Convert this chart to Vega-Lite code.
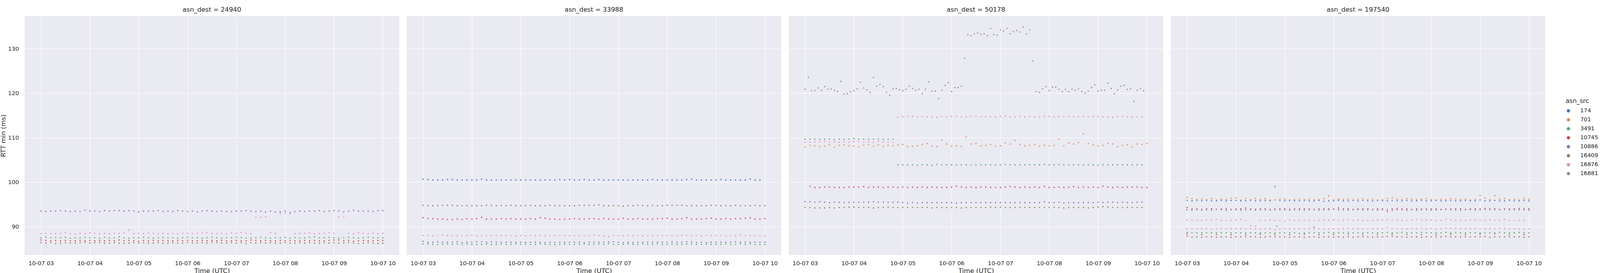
{
"$schema":"https://vega.github.io/schema/vega-lite/v6.json",
"background":"white",
"padding":{"left":0,"top":16,"right":0,"bottom":0},
"config":{
"font":"DejaVu Sans",
"view":{"fill":"#eaeaf2","stroke":null},
"axis":{"grid":true,"gridColor":"white","gridWidth":1.2,"domain":false,"ticks":false,"labelColor":"#262626","titleColor":"#262626","labelFontSize":14.5,"titleFontSize":16.5,"titleFontWeight":"normal"},
"header":{"labelFontSize":16.5,"labelColor":"#262626","labelPadding":8}
},
"data":{"format":{"parse":{"t":"date:'%H%M'"}},"values":[
{"d":24940,"s":10886,"t":"0300","v":93.5},{"d":24940,"s":10886,"t":"0306","v":93.4},{"d":24940,"s":10886,"t":"0312","v":93.5},{"d":24940,"s":10886,"t":"0318","v":93.5},{"d":24940,"s":10886,"t":"0324","v":93.6},{"d":24940,"s":10886,"t":"0330","v":93.5},{"d":24940,"s":10886,"t":"0336","v":93.4},{"d":24940,"s":10886,"t":"0342","v":93.5},{"d":24940,"s":10886,"t":"0348","v":93.4},{"d":24940,"s":10886,"t":"0354","v":93.7},{"d":24940,"s":10886,"t":"0400","v":93.5},{"d":24940,"s":10886,"t":"0406","v":93.5},{"d":24940,"s":10886,"t":"0412","v":93.4},{"d":24940,"s":10886,"t":"0418","v":93.6},{"d":24940,"s":10886,"t":"0424","v":93.5},{"d":24940,"s":10886,"t":"0430","v":93.6},{"d":24940,"s":10886,"t":"0436","v":93.6},{"d":24940,"s":10886,"t":"0442","v":93.5},{"d":24940,"s":10886,"t":"0448","v":93.6},{"d":24940,"s":10886,"t":"0454","v":93.5},{"d":24940,"s":10886,"t":"0500","v":93.3},{"d":24940,"s":10886,"t":"0506","v":93.5},{"d":24940,"s":10886,"t":"0512","v":93.5},{"d":24940,"s":10886,"t":"0518","v":93.5},{"d":24940,"s":10886,"t":"0524","v":93.6},{"d":24940,"s":10886,"t":"0530","v":93.4},{"d":24940,"s":10886,"t":"0536","v":93.5},{"d":24940,"s":10886,"t":"0542","v":93.4},{"d":24940,"s":10886,"t":"0548","v":93.6},{"d":24940,"s":10886,"t":"0554","v":93.5},{"d":24940,"s":10886,"t":"0600","v":93.4},{"d":24940,"s":10886,"t":"0606","v":93.5},{"d":24940,"s":10886,"t":"0612","v":93.3},{"d":24940,"s":10886,"t":"0618","v":93.5},{"d":24940,"s":10886,"t":"0624","v":93.6},{"d":24940,"s":10886,"t":"0630","v":93.5},{"d":24940,"s":10886,"t":"0636","v":93.4},{"d":24940,"s":10886,"t":"0642","v":93.5},{"d":24940,"s":10886,"t":"0648","v":93.4},{"d":24940,"s":10886,"t":"0654","v":93.4},{"d":24940,"s":10886,"t":"0700","v":93.5},{"d":24940,"s":10886,"t":"0706","v":93.5},{"d":24940,"s":10886,"t":"0712","v":93.6},{"d":24940,"s":10886,"t":"0718","v":93.5},{"d":24940,"s":10886,"t":"0724","v":93.4},{"d":24940,"s":10886,"t":"0730","v":93.5},{"d":24940,"s":10886,"t":"0736","v":93.3},{"d":24940,"s":10886,"t":"0742","v":93.5},{"d":24940,"s":10886,"t":"0748","v":93.3},{"d":24940,"s":10886,"t":"0754","v":93.3},{"d":24940,"s":10886,"t":"0800","v":93.5},{"d":24940,"s":10886,"t":"0806","v":93.2},{"d":24940,"s":10886,"t":"0812","v":93.4},{"d":24940,"s":10886,"t":"0818","v":93.5},{"d":24940,"s":10886,"t":"0824","v":93.4},{"d":24940,"s":10886,"t":"0830","v":93.5},{"d":24940,"s":10886,"t":"0836","v":93.5},{"d":24940,"s":10886,"t":"0842","v":93.6},{"d":24940,"s":10886,"t":"0848","v":93.4},{"d":24940,"s":10886,"t":"0854","v":93.5},{"d":24940,"s":10886,"t":"0900","v":93.6},{"d":24940,"s":10886,"t":"0906","v":93.5},{"d":24940,"s":10886,"t":"0912","v":93.3},{"d":24940,"s":10886,"t":"0918","v":93.5},{"d":24940,"s":10886,"t":"0924","v":93.7},{"d":24940,"s":10886,"t":"0930","v":93.5},{"d":24940,"s":10886,"t":"0936","v":93.5},{"d":24940,"s":10886,"t":"0942","v":93.5},{"d":24940,"s":10886,"t":"0948","v":93.4},{"d":24940,"s":10886,"t":"0954","v":93.6},{"d":24940,"s":10886,"t":"1000","v":93.6},
{"d":24940,"s":16876,"t":"0300","v":88.4},{"d":24940,"s":16876,"t":"0306","v":88.5},{"d":24940,"s":16876,"t":"0312","v":88.4},{"d":24940,"s":16876,"t":"0318","v":88.4},{"d":24940,"s":16876,"t":"0324","v":88.5},{"d":24940,"s":16876,"t":"0330","v":88.7},{"d":24940,"s":16876,"t":"0336","v":88.4},{"d":24940,"s":16876,"t":"0342","v":88.3},{"d":24940,"s":16876,"t":"0348","v":88.5},{"d":24940,"s":16876,"t":"0354","v":88.4},{"d":24940,"s":16876,"t":"0400","v":88.6},{"d":24940,"s":16876,"t":"0406","v":88.5},{"d":24940,"s":16876,"t":"0412","v":88.4},{"d":24940,"s":16876,"t":"0418","v":88.5},{"d":24940,"s":16876,"t":"0424","v":88.4},{"d":24940,"s":16876,"t":"0430","v":88.5},{"d":24940,"s":16876,"t":"0436","v":88.5},{"d":24940,"s":16876,"t":"0442","v":88.6},{"d":24940,"s":16876,"t":"0448","v":89.2},{"d":24940,"s":16876,"t":"0454","v":88.4},{"d":24940,"s":16876,"t":"0500","v":88.5},{"d":24940,"s":16876,"t":"0506","v":88.4},{"d":24940,"s":16876,"t":"0512","v":88.6},{"d":24940,"s":16876,"t":"0518","v":88.5},{"d":24940,"s":16876,"t":"0524","v":88.4},{"d":24940,"s":16876,"t":"0530","v":88.5},{"d":24940,"s":16876,"t":"0536","v":88.4},{"d":24940,"s":16876,"t":"0542","v":88.5},{"d":24940,"s":16876,"t":"0548","v":88.4},{"d":24940,"s":16876,"t":"0554","v":88.5},{"d":24940,"s":16876,"t":"0600","v":88.5},{"d":24940,"s":16876,"t":"0606","v":88.4},{"d":24940,"s":16876,"t":"0612","v":88.5},{"d":24940,"s":16876,"t":"0618","v":88.6},{"d":24940,"s":16876,"t":"0624","v":88.7},{"d":24940,"s":16876,"t":"0630","v":88.5},{"d":24940,"s":16876,"t":"0636","v":88.4},{"d":24940,"s":16876,"t":"0642","v":88.5},{"d":24940,"s":16876,"t":"0648","v":88.4},{"d":24940,"s":16876,"t":"0654","v":88.6},{"d":24940,"s":16876,"t":"0700","v":88.5},{"d":24940,"s":16876,"t":"0706","v":88.7},{"d":24940,"s":16876,"t":"0712","v":88.5},{"d":24940,"s":16876,"t":"0718","v":88.4},{"d":24940,"s":16876,"t":"0724","v":92.1},{"d":24940,"s":16876,"t":"0730","v":92.1},{"d":24940,"s":16876,"t":"0736","v":92.2},{"d":24940,"s":16876,"t":"0742","v":88.6},{"d":24940,"s":16876,"t":"0748","v":88.5},{"d":24940,"s":16876,"t":"0754","v":93.0},{"d":24940,"s":16876,"t":"0800","v":93.0},{"d":24940,"s":16876,"t":"0806","v":92.9},{"d":24940,"s":16876,"t":"0812","v":88.4},{"d":24940,"s":16876,"t":"0818","v":88.5},{"d":24940,"s":16876,"t":"0824","v":88.5},{"d":24940,"s":16876,"t":"0830","v":88.6},{"d":24940,"s":16876,"t":"0836","v":88.4},{"d":24940,"s":16876,"t":"0842","v":88.5},{"d":24940,"s":16876,"t":"0848","v":88.5},{"d":24940,"s":16876,"t":"0854","v":88.6},{"d":24940,"s":16876,"t":"0900","v":88.5},{"d":24940,"s":16876,"t":"0906","v":92.2},{"d":24940,"s":16876,"t":"0912","v":92.1},{"d":24940,"s":16876,"t":"0918","v":88.5},{"d":24940,"s":16876,"t":"0924","v":88.4},{"d":24940,"s":16876,"t":"0930","v":88.6},{"d":24940,"s":16876,"t":"0936","v":88.5},{"d":24940,"s":16876,"t":"0942","v":88.4},{"d":24940,"s":16876,"t":"0948","v":88.5},{"d":24940,"s":16876,"t":"0954","v":88.4},{"d":24940,"s":16876,"t":"1000","v":88.5},
{"d":24940,"s":3491,"t":"0300","v":87.5},{"d":24940,"s":3491,"t":"0306","v":87.6},{"d":24940,"s":3491,"t":"0312","v":87.5},{"d":24940,"s":3491,"t":"0318","v":87.6},{"d":24940,"s":3491,"t":"0324","v":87.5},{"d":24940,"s":3491,"t":"0330","v":87.6},{"d":24940,"s":3491,"t":"0336","v":87.4},{"d":24940,"s":3491,"t":"0342","v":87.5},{"d":24940,"s":3491,"t":"0348","v":87.5},{"d":24940,"s":3491,"t":"0354","v":87.6},{"d":24940,"s":3491,"t":"0400","v":87.5},{"d":24940,"s":3491,"t":"0406","v":87.5},{"d":24940,"s":3491,"t":"0412","v":87.4},{"d":24940,"s":3491,"t":"0418","v":87.6},{"d":24940,"s":3491,"t":"0424","v":87.5},{"d":24940,"s":3491,"t":"0430","v":87.5},{"d":24940,"s":3491,"t":"0436","v":87.7},{"d":24940,"s":3491,"t":"0442","v":87.5},{"d":24940,"s":3491,"t":"0448","v":87.4},{"d":24940,"s":3491,"t":"0454","v":87.5},{"d":24940,"s":3491,"t":"0500","v":87.5},{"d":24940,"s":3491,"t":"0506","v":87.6},{"d":24940,"s":3491,"t":"0512","v":87.5},{"d":24940,"s":3491,"t":"0518","v":87.4},{"d":24940,"s":3491,"t":"0524","v":87.5},{"d":24940,"s":3491,"t":"0530","v":87.6},{"d":24940,"s":3491,"t":"0536","v":87.5},{"d":24940,"s":3491,"t":"0542","v":87.5},{"d":24940,"s":3491,"t":"0548","v":87.4},{"d":24940,"s":3491,"t":"0554","v":87.5},{"d":24940,"s":3491,"t":"0600","v":87.6},{"d":24940,"s":3491,"t":"0606","v":87.5},{"d":24940,"s":3491,"t":"0612","v":87.5},{"d":24940,"s":3491,"t":"0618","v":87.4},{"d":24940,"s":3491,"t":"0624","v":87.5},{"d":24940,"s":3491,"t":"0630","v":87.6},{"d":24940,"s":3491,"t":"0636","v":87.5},{"d":24940,"s":3491,"t":"0642","v":87.4},{"d":24940,"s":3491,"t":"0648","v":87.5},{"d":24940,"s":3491,"t":"0654","v":87.5},{"d":24940,"s":3491,"t":"0700","v":87.6},{"d":24940,"s":3491,"t":"0706","v":87.5},{"d":24940,"s":3491,"t":"0712","v":87.4},{"d":24940,"s":3491,"t":"0718","v":87.5},{"d":24940,"s":3491,"t":"0724","v":87.5},{"d":24940,"s":3491,"t":"0730","v":87.6},{"d":24940,"s":3491,"t":"0736","v":87.5},{"d":24940,"s":3491,"t":"0742","v":87.4},{"d":24940,"s":3491,"t":"0748","v":87.5},{"d":24940,"s":3491,"t":"0754","v":87.5},{"d":24940,"s":3491,"t":"0800","v":87.6},{"d":24940,"s":3491,"t":"0806","v":87.4},{"d":24940,"s":3491,"t":"0812","v":87.5},{"d":24940,"s":3491,"t":"0818","v":87.4},{"d":24940,"s":3491,"t":"0824","v":87.5},{"d":24940,"s":3491,"t":"0830","v":87.6},{"d":24940,"s":3491,"t":"0836","v":87.7},{"d":24940,"s":3491,"t":"0842","v":87.5},{"d":24940,"s":3491,"t":"0848","v":87.5},{"d":24940,"s":3491,"t":"0854","v":87.6},{"d":24940,"s":3491,"t":"0900","v":87.5},{"d":24940,"s":3491,"t":"0906","v":87.4},{"d":24940,"s":3491,"t":"0912","v":87.5},{"d":24940,"s":3491,"t":"0918","v":87.6},{"d":24940,"s":3491,"t":"0924","v":87.5},{"d":24940,"s":3491,"t":"0930","v":87.4},{"d":24940,"s":3491,"t":"0936","v":87.5},{"d":24940,"s":3491,"t":"0942","v":87.6},{"d":24940,"s":3491,"t":"0948","v":87.5},{"d":24940,"s":3491,"t":"0954","v":87.5},{"d":24940,"s":3491,"t":"1000","v":87.5},
{"d":24940,"s":10745,"t":"0300","v":87.0},{"d":24940,"s":10745,"t":"0306","v":86.9},{"d":24940,"s":10745,"t":"0312","v":86.8},{"d":24940,"s":10745,"t":"0318","v":86.9},{"d":24940,"s":10745,"t":"0324","v":86.8},{"d":24940,"s":10745,"t":"0330","v":86.9},{"d":24940,"s":10745,"t":"0336","v":86.8},{"d":24940,"s":10745,"t":"0342","v":86.8},{"d":24940,"s":10745,"t":"0348","v":86.9},{"d":24940,"s":10745,"t":"0354","v":86.8},{"d":24940,"s":10745,"t":"0400","v":86.9},{"d":24940,"s":10745,"t":"0406","v":86.8},{"d":24940,"s":10745,"t":"0412","v":86.9},{"d":24940,"s":10745,"t":"0418","v":86.8},{"d":24940,"s":10745,"t":"0424","v":86.9},{"d":24940,"s":10745,"t":"0430","v":86.8},{"d":24940,"s":10745,"t":"0436","v":87.0},{"d":24940,"s":10745,"t":"0442","v":86.8},{"d":24940,"s":10745,"t":"0448","v":86.9},{"d":24940,"s":10745,"t":"0454","v":86.8},{"d":24940,"s":10745,"t":"0500","v":86.7},{"d":24940,"s":10745,"t":"0506","v":86.9},{"d":24940,"s":10745,"t":"0512","v":86.8},{"d":24940,"s":10745,"t":"0518","v":86.9},{"d":24940,"s":10745,"t":"0524","v":86.8},{"d":24940,"s":10745,"t":"0530","v":86.9},{"d":24940,"s":10745,"t":"0536","v":86.8},{"d":24940,"s":10745,"t":"0542","v":86.8},{"d":24940,"s":10745,"t":"0548","v":86.9},{"d":24940,"s":10745,"t":"0554","v":86.8},{"d":24940,"s":10745,"t":"0600","v":86.9},{"d":24940,"s":10745,"t":"0606","v":86.8},{"d":24940,"s":10745,"t":"0612","v":86.8},{"d":24940,"s":10745,"t":"0618","v":86.9},{"d":24940,"s":10745,"t":"0624","v":86.8},{"d":24940,"s":10745,"t":"0630","v":86.9},{"d":24940,"s":10745,"t":"0636","v":86.8},{"d":24940,"s":10745,"t":"0642","v":86.9},{"d":24940,"s":10745,"t":"0648","v":86.8},{"d":24940,"s":10745,"t":"0654","v":86.8},{"d":24940,"s":10745,"t":"0700","v":86.9},{"d":24940,"s":10745,"t":"0706","v":86.8},{"d":24940,"s":10745,"t":"0712","v":86.8},{"d":24940,"s":10745,"t":"0718","v":87.0},{"d":24940,"s":10745,"t":"0724","v":86.9},{"d":24940,"s":10745,"t":"0730","v":86.8},{"d":24940,"s":10745,"t":"0736","v":86.9},{"d":24940,"s":10745,"t":"0742","v":86.8},{"d":24940,"s":10745,"t":"0748","v":86.8},{"d":24940,"s":10745,"t":"0754","v":86.9},{"d":24940,"s":10745,"t":"0800","v":86.8},{"d":24940,"s":10745,"t":"0806","v":86.9},{"d":24940,"s":10745,"t":"0812","v":86.8},{"d":24940,"s":10745,"t":"0818","v":86.8},{"d":24940,"s":10745,"t":"0824","v":86.9},{"d":24940,"s":10745,"t":"0830","v":86.8},{"d":24940,"s":10745,"t":"0836","v":86.9},{"d":24940,"s":10745,"t":"0842","v":86.8},{"d":24940,"s":10745,"t":"0848","v":86.8},{"d":24940,"s":10745,"t":"0854","v":86.9},{"d":24940,"s":10745,"t":"0900","v":87.0},{"d":24940,"s":10745,"t":"0906","v":87.0},{"d":24940,"s":10745,"t":"0912","v":86.8},{"d":24940,"s":10745,"t":"0918","v":86.9},{"d":24940,"s":10745,"t":"0924","v":86.7},{"d":24940,"s":10745,"t":"0930","v":86.8},{"d":24940,"s":10745,"t":"0936","v":86.9},{"d":24940,"s":10745,"t":"0942","v":86.8},{"d":24940,"s":10745,"t":"0948","v":86.8},{"d":24940,"s":10745,"t":"0954","v":86.9},{"d":24940,"s":10745,"t":"1000","v":86.9},
{"d":24940,"s":16409,"t":"0300","v":86.4},{"d":24940,"s":16409,"t":"0306","v":86.3},{"d":24940,"s":16409,"t":"0312","v":86.4},{"d":24940,"s":16409,"t":"0318","v":86.2},{"d":24940,"s":16409,"t":"0324","v":86.3},{"d":24940,"s":16409,"t":"0330","v":86.4},{"d":24940,"s":16409,"t":"0336","v":86.3},{"d":24940,"s":16409,"t":"0342","v":86.3},{"d":24940,"s":16409,"t":"0348","v":86.4},{"d":24940,"s":16409,"t":"0354","v":86.5},{"d":24940,"s":16409,"t":"0400","v":86.3},{"d":24940,"s":16409,"t":"0406","v":86.4},{"d":24940,"s":16409,"t":"0412","v":86.4},{"d":24940,"s":16409,"t":"0418","v":86.3},{"d":24940,"s":16409,"t":"0424","v":86.3},{"d":24940,"s":16409,"t":"0430","v":86.4},{"d":24940,"s":16409,"t":"0436","v":86.3},{"d":24940,"s":16409,"t":"0442","v":86.2},{"d":24940,"s":16409,"t":"0448","v":86.3},{"d":24940,"s":16409,"t":"0454","v":86.4},{"d":24940,"s":16409,"t":"0500","v":86.3},{"d":24940,"s":16409,"t":"0506","v":86.4},{"d":24940,"s":16409,"t":"0512","v":86.3},{"d":24940,"s":16409,"t":"0518","v":86.3},{"d":24940,"s":16409,"t":"0524","v":86.4},{"d":24940,"s":16409,"t":"0530","v":86.3},{"d":24940,"s":16409,"t":"0536","v":86.3},{"d":24940,"s":16409,"t":"0542","v":86.4},{"d":24940,"s":16409,"t":"0548","v":86.3},{"d":24940,"s":16409,"t":"0554","v":86.3},{"d":24940,"s":16409,"t":"0600","v":86.4},{"d":24940,"s":16409,"t":"0606","v":86.3},{"d":24940,"s":16409,"t":"0612","v":86.3},{"d":24940,"s":16409,"t":"0618","v":86.4},{"d":24940,"s":16409,"t":"0624","v":86.3},{"d":24940,"s":16409,"t":"0630","v":86.5},{"d":24940,"s":16409,"t":"0636","v":86.4},{"d":24940,"s":16409,"t":"0642","v":86.3},{"d":24940,"s":16409,"t":"0648","v":86.3},{"d":24940,"s":16409,"t":"0654","v":86.4},{"d":24940,"s":16409,"t":"0700","v":86.3},{"d":24940,"s":16409,"t":"0706","v":86.4},{"d":24940,"s":16409,"t":"0712","v":86.2},{"d":24940,"s":16409,"t":"0718","v":86.4},{"d":24940,"s":16409,"t":"0724","v":86.3},{"d":24940,"s":16409,"t":"0730","v":86.4},{"d":24940,"s":16409,"t":"0736","v":86.3},{"d":24940,"s":16409,"t":"0742","v":86.4},{"d":24940,"s":16409,"t":"0748","v":86.3},{"d":24940,"s":16409,"t":"0754","v":86.3},{"d":24940,"s":16409,"t":"0800","v":86.4},{"d":24940,"s":16409,"t":"0806","v":86.3},{"d":24940,"s":16409,"t":"0812","v":86.3},{"d":24940,"s":16409,"t":"0818","v":86.4},{"d":24940,"s":16409,"t":"0824","v":86.3},{"d":24940,"s":16409,"t":"0830","v":86.4},{"d":24940,"s":16409,"t":"0836","v":86.3},{"d":24940,"s":16409,"t":"0842","v":86.3},{"d":24940,"s":16409,"t":"0848","v":86.4},{"d":24940,"s":16409,"t":"0854","v":86.3},{"d":24940,"s":16409,"t":"0900","v":86.4},{"d":24940,"s":16409,"t":"0906","v":86.3},{"d":24940,"s":16409,"t":"0912","v":86.3},{"d":24940,"s":16409,"t":"0918","v":86.4},{"d":24940,"s":16409,"t":"0924","v":86.3},{"d":24940,"s":16409,"t":"0930","v":86.2},{"d":24940,"s":16409,"t":"0936","v":86.3},{"d":24940,"s":16409,"t":"0942","v":86.4},{"d":24940,"s":16409,"t":"0948","v":86.3},{"d":24940,"s":16409,"t":"0954","v":86.2},{"d":24940,"s":16409,"t":"1000","v":86.3},
{"d":33988,"s":174,"t":"0300","v":100.7},{"d":33988,"s":174,"t":"0306","v":100.6},{"d":33988,"s":174,"t":"0312","v":100.5},{"d":33988,"s":174,"t":"0318","v":100.5},{"d":33988,"s":174,"t":"0324","v":100.5},{"d":33988,"s":174,"t":"0330","v":100.6},{"d":33988,"s":174,"t":"0336","v":100.6},{"d":33988,"s":174,"t":"0342","v":100.5},{"d":33988,"s":174,"t":"0348","v":100.5},{"d":33988,"s":174,"t":"0354","v":100.5},{"d":33988,"s":174,"t":"0400","v":100.5},{"d":33988,"s":174,"t":"0406","v":100.5},{"d":33988,"s":174,"t":"0412","v":100.7},{"d":33988,"s":174,"t":"0418","v":100.5},{"d":33988,"s":174,"t":"0424","v":100.5},{"d":33988,"s":174,"t":"0430","v":100.5},{"d":33988,"s":174,"t":"0436","v":100.5},{"d":33988,"s":174,"t":"0442","v":100.5},{"d":33988,"s":174,"t":"0448","v":100.5},{"d":33988,"s":174,"t":"0454","v":100.5},{"d":33988,"s":174,"t":"0500","v":100.5},{"d":33988,"s":174,"t":"0506","v":100.5},{"d":33988,"s":174,"t":"0512","v":100.5},{"d":33988,"s":174,"t":"0518","v":100.5},{"d":33988,"s":174,"t":"0524","v":100.5},{"d":33988,"s":174,"t":"0530","v":100.5},{"d":33988,"s":174,"t":"0536","v":100.5},{"d":33988,"s":174,"t":"0542","v":100.5},{"d":33988,"s":174,"t":"0548","v":100.6},{"d":33988,"s":174,"t":"0554","v":100.5},{"d":33988,"s":174,"t":"0600","v":100.6},{"d":33988,"s":174,"t":"0606","v":100.5},{"d":33988,"s":174,"t":"0612","v":100.5},{"d":33988,"s":174,"t":"0618","v":100.6},{"d":33988,"s":174,"t":"0624","v":100.5},{"d":33988,"s":174,"t":"0630","v":100.5},{"d":33988,"s":174,"t":"0636","v":100.6},{"d":33988,"s":174,"t":"0642","v":100.5},{"d":33988,"s":174,"t":"0648","v":100.5},{"d":33988,"s":174,"t":"0654","v":100.5},{"d":33988,"s":174,"t":"0700","v":100.5},{"d":33988,"s":174,"t":"0706","v":100.5},{"d":33988,"s":174,"t":"0712","v":100.5},{"d":33988,"s":174,"t":"0718","v":100.5},{"d":33988,"s":174,"t":"0724","v":100.5},{"d":33988,"s":174,"t":"0730","v":100.5},{"d":33988,"s":174,"t":"0736","v":100.5},{"d":33988,"s":174,"t":"0742","v":100.6},{"d":33988,"s":174,"t":"0748","v":100.5},{"d":33988,"s":174,"t":"0754","v":100.5},{"d":33988,"s":174,"t":"0800","v":100.5},{"d":33988,"s":174,"t":"0806","v":100.5},{"d":33988,"s":174,"t":"0812","v":100.5},{"d":33988,"s":174,"t":"0818","v":100.5},{"d":33988,"s":174,"t":"0824","v":100.6},{"d":33988,"s":174,"t":"0830","v":100.7},{"d":33988,"s":174,"t":"0836","v":100.5},{"d":33988,"s":174,"t":"0842","v":100.5},{"d":33988,"s":174,"t":"0848","v":100.5},{"d":33988,"s":174,"t":"0854","v":100.5},{"d":33988,"s":174,"t":"0900","v":100.5},{"d":33988,"s":174,"t":"0906","v":100.6},{"d":33988,"s":174,"t":"0912","v":100.5},{"d":33988,"s":174,"t":"0918","v":100.5},{"d":33988,"s":174,"t":"0924","v":100.5},{"d":33988,"s":174,"t":"0930","v":100.5},{"d":33988,"s":174,"t":"0936","v":100.5},{"d":33988,"s":174,"t":"0942","v":100.7},{"d":33988,"s":174,"t":"0948","v":100.5},{"d":33988,"s":174,"t":"0954","v":100.5},
{"d":33988,"s":16409,"t":"0300","v":94.8},{"d":33988,"s":16409,"t":"0306","v":94.7},{"d":33988,"s":16409,"t":"0312","v":94.7},{"d":33988,"s":16409,"t":"0318","v":94.7},{"d":33988,"s":16409,"t":"0324","v":94.8},{"d":33988,"s":16409,"t":"0330","v":94.8},{"d":33988,"s":16409,"t":"0336","v":94.8},{"d":33988,"s":16409,"t":"0342","v":94.7},{"d":33988,"s":16409,"t":"0348","v":94.7},{"d":33988,"s":16409,"t":"0354","v":94.7},{"d":33988,"s":16409,"t":"0400","v":94.7},{"d":33988,"s":16409,"t":"0406","v":94.7},{"d":33988,"s":16409,"t":"0412","v":94.7},{"d":33988,"s":16409,"t":"0418","v":94.8},{"d":33988,"s":16409,"t":"0424","v":94.8},{"d":33988,"s":16409,"t":"0430","v":94.7},{"d":33988,"s":16409,"t":"0436","v":94.8},{"d":33988,"s":16409,"t":"0442","v":94.7},{"d":33988,"s":16409,"t":"0448","v":94.8},{"d":33988,"s":16409,"t":"0454","v":94.7},{"d":33988,"s":16409,"t":"0500","v":94.7},{"d":33988,"s":16409,"t":"0506","v":94.7},{"d":33988,"s":16409,"t":"0512","v":94.8},{"d":33988,"s":16409,"t":"0518","v":94.7},{"d":33988,"s":16409,"t":"0524","v":94.7},{"d":33988,"s":16409,"t":"0530","v":94.7},{"d":33988,"s":16409,"t":"0536","v":94.8},{"d":33988,"s":16409,"t":"0542","v":94.7},{"d":33988,"s":16409,"t":"0548","v":94.7},{"d":33988,"s":16409,"t":"0554","v":94.7},{"d":33988,"s":16409,"t":"0600","v":94.7},{"d":33988,"s":16409,"t":"0606","v":94.7},{"d":33988,"s":16409,"t":"0612","v":94.8},{"d":33988,"s":16409,"t":"0618","v":94.8},{"d":33988,"s":16409,"t":"0624","v":94.8},{"d":33988,"s":16409,"t":"0630","v":94.8},{"d":33988,"s":16409,"t":"0636","v":94.9},{"d":33988,"s":16409,"t":"0642","v":94.7},{"d":33988,"s":16409,"t":"0648","v":94.7},{"d":33988,"s":16409,"t":"0654","v":94.7},{"d":33988,"s":16409,"t":"0700","v":94.7},{"d":33988,"s":16409,"t":"0706","v":94.6},{"d":33988,"s":16409,"t":"0712","v":94.7},{"d":33988,"s":16409,"t":"0718","v":94.7},{"d":33988,"s":16409,"t":"0724","v":94.8},{"d":33988,"s":16409,"t":"0730","v":94.8},{"d":33988,"s":16409,"t":"0736","v":94.7},{"d":33988,"s":16409,"t":"0742","v":94.8},{"d":33988,"s":16409,"t":"0748","v":94.7},{"d":33988,"s":16409,"t":"0754","v":94.7},{"d":33988,"s":16409,"t":"0800","v":94.8},{"d":33988,"s":16409,"t":"0806","v":94.8},{"d":33988,"s":16409,"t":"0812","v":94.8},{"d":33988,"s":16409,"t":"0818","v":94.8},{"d":33988,"s":16409,"t":"0824","v":94.7},{"d":33988,"s":16409,"t":"0830","v":94.7},{"d":33988,"s":16409,"t":"0836","v":94.7},{"d":33988,"s":16409,"t":"0842","v":94.7},{"d":33988,"s":16409,"t":"0848","v":94.7},{"d":33988,"s":16409,"t":"0854","v":94.8},{"d":33988,"s":16409,"t":"0900","v":94.8},{"d":33988,"s":16409,"t":"0906","v":94.7},{"d":33988,"s":16409,"t":"0912","v":94.7},{"d":33988,"s":16409,"t":"0918","v":94.7},{"d":33988,"s":16409,"t":"0924","v":94.8},{"d":33988,"s":16409,"t":"0930","v":94.7},{"d":33988,"s":16409,"t":"0936","v":94.7},{"d":33988,"s":16409,"t":"0942","v":94.7},{"d":33988,"s":16409,"t":"0948","v":94.8},{"d":33988,"s":16409,"t":"0954","v":94.7},{"d":33988,"s":16409,"t":"1000","v":94.7},
{"d":33988,"s":10745,"t":"0300","v":92.0},{"d":33988,"s":10745,"t":"0306","v":91.8},{"d":33988,"s":10745,"t":"0312","v":91.8},{"d":33988,"s":10745,"t":"0318","v":91.7},{"d":33988,"s":10745,"t":"0324","v":91.7},{"d":33988,"s":10745,"t":"0330","v":91.6},{"d":33988,"s":10745,"t":"0336","v":91.6},{"d":33988,"s":10745,"t":"0342","v":91.7},{"d":33988,"s":10745,"t":"0348","v":91.6},{"d":33988,"s":10745,"t":"0354","v":91.8},{"d":33988,"s":10745,"t":"0400","v":91.7},{"d":33988,"s":10745,"t":"0406","v":91.8},{"d":33988,"s":10745,"t":"0412","v":92.1},{"d":33988,"s":10745,"t":"0418","v":91.7},{"d":33988,"s":10745,"t":"0424","v":91.7},{"d":33988,"s":10745,"t":"0430","v":91.7},{"d":33988,"s":10745,"t":"0436","v":91.8},{"d":33988,"s":10745,"t":"0442","v":91.7},{"d":33988,"s":10745,"t":"0448","v":91.8},{"d":33988,"s":10745,"t":"0454","v":91.7},{"d":33988,"s":10745,"t":"0500","v":91.7},{"d":33988,"s":10745,"t":"0506","v":91.7},{"d":33988,"s":10745,"t":"0512","v":91.8},{"d":33988,"s":10745,"t":"0518","v":91.7},{"d":33988,"s":10745,"t":"0524","v":92.0},{"d":33988,"s":10745,"t":"0530","v":91.9},{"d":33988,"s":10745,"t":"0536","v":91.7},{"d":33988,"s":10745,"t":"0542","v":91.7},{"d":33988,"s":10745,"t":"0548","v":91.6},{"d":33988,"s":10745,"t":"0554","v":91.7},{"d":33988,"s":10745,"t":"0600","v":91.7},{"d":33988,"s":10745,"t":"0606","v":91.8},{"d":33988,"s":10745,"t":"0612","v":91.7},{"d":33988,"s":10745,"t":"0618","v":91.7},{"d":33988,"s":10745,"t":"0624","v":91.8},{"d":33988,"s":10745,"t":"0630","v":91.8},{"d":33988,"s":10745,"t":"0636","v":91.7},{"d":33988,"s":10745,"t":"0642","v":91.8},{"d":33988,"s":10745,"t":"0648","v":91.7},{"d":33988,"s":10745,"t":"0654","v":91.7},{"d":33988,"s":10745,"t":"0700","v":91.7},{"d":33988,"s":10745,"t":"0706","v":91.9},{"d":33988,"s":10745,"t":"0712","v":91.7},{"d":33988,"s":10745,"t":"0718","v":91.7},{"d":33988,"s":10745,"t":"0724","v":91.8},{"d":33988,"s":10745,"t":"0730","v":91.7},{"d":33988,"s":10745,"t":"0736","v":91.7},{"d":33988,"s":10745,"t":"0742","v":91.7},{"d":33988,"s":10745,"t":"0748","v":91.8},{"d":33988,"s":10745,"t":"0754","v":91.8},{"d":33988,"s":10745,"t":"0800","v":91.9},{"d":33988,"s":10745,"t":"0806","v":91.7},{"d":33988,"s":10745,"t":"0812","v":91.7},{"d":33988,"s":10745,"t":"0818","v":91.8},{"d":33988,"s":10745,"t":"0824","v":92.0},{"d":33988,"s":10745,"t":"0830","v":91.7},{"d":33988,"s":10745,"t":"0836","v":91.7},{"d":33988,"s":10745,"t":"0842","v":91.7},{"d":33988,"s":10745,"t":"0848","v":91.8},{"d":33988,"s":10745,"t":"0854","v":91.9},{"d":33988,"s":10745,"t":"0900","v":91.7},{"d":33988,"s":10745,"t":"0906","v":91.7},{"d":33988,"s":10745,"t":"0912","v":91.8},{"d":33988,"s":10745,"t":"0918","v":91.7},{"d":33988,"s":10745,"t":"0924","v":91.8},{"d":33988,"s":10745,"t":"0930","v":91.8},{"d":33988,"s":10745,"t":"0936","v":91.9},{"d":33988,"s":10745,"t":"0942","v":92.0},{"d":33988,"s":10745,"t":"0948","v":91.7},{"d":33988,"s":10745,"t":"0954","v":91.7},{"d":33988,"s":10745,"t":"1000","v":91.8},
{"d":33988,"s":16876,"t":"0300","v":88.0},{"d":33988,"s":16876,"t":"0306","v":88.0},{"d":33988,"s":16876,"t":"0312","v":87.9},{"d":33988,"s":16876,"t":"0318","v":88.0},{"d":33988,"s":16876,"t":"0324","v":88.1},{"d":33988,"s":16876,"t":"0330","v":88.0},{"d":33988,"s":16876,"t":"0336","v":88.0},{"d":33988,"s":16876,"t":"0342","v":87.9},{"d":33988,"s":16876,"t":"0348","v":88.0},{"d":33988,"s":16876,"t":"0354","v":88.0},{"d":33988,"s":16876,"t":"0400","v":88.1},{"d":33988,"s":16876,"t":"0406","v":87.9},{"d":33988,"s":16876,"t":"0412","v":88.0},{"d":33988,"s":16876,"t":"0418","v":87.9},{"d":33988,"s":16876,"t":"0424","v":88.0},{"d":33988,"s":16876,"t":"0430","v":88.0},{"d":33988,"s":16876,"t":"0436","v":88.0},{"d":33988,"s":16876,"t":"0442","v":88.0},{"d":33988,"s":16876,"t":"0448","v":88.0},{"d":33988,"s":16876,"t":"0454","v":87.9},{"d":33988,"s":16876,"t":"0500","v":88.0},{"d":33988,"s":16876,"t":"0506","v":87.9},{"d":33988,"s":16876,"t":"0512","v":88.0},{"d":33988,"s":16876,"t":"0518","v":88.0},{"d":33988,"s":16876,"t":"0524","v":88.0},{"d":33988,"s":16876,"t":"0530","v":87.9},{"d":33988,"s":16876,"t":"0536","v":88.0},{"d":33988,"s":16876,"t":"0542","v":88.0},{"d":33988,"s":16876,"t":"0548","v":88.0},{"d":33988,"s":16876,"t":"0554","v":88.0},{"d":33988,"s":16876,"t":"0600","v":87.9},{"d":33988,"s":16876,"t":"0606","v":88.0},{"d":33988,"s":16876,"t":"0612","v":88.0},{"d":33988,"s":16876,"t":"0618","v":87.9},{"d":33988,"s":16876,"t":"0624","v":88.0},{"d":33988,"s":16876,"t":"0630","v":88.1},{"d":33988,"s":16876,"t":"0636","v":88.0},{"d":33988,"s":16876,"t":"0642","v":87.9},{"d":33988,"s":16876,"t":"0648","v":87.8},{"d":33988,"s":16876,"t":"0654","v":88.0},{"d":33988,"s":16876,"t":"0700","v":88.0},{"d":33988,"s":16876,"t":"0706","v":87.9},{"d":33988,"s":16876,"t":"0712","v":88.0},{"d":33988,"s":16876,"t":"0718","v":88.0},{"d":33988,"s":16876,"t":"0724","v":88.0},{"d":33988,"s":16876,"t":"0730","v":87.9},{"d":33988,"s":16876,"t":"0736","v":88.0},{"d":33988,"s":16876,"t":"0742","v":88.0},{"d":33988,"s":16876,"t":"0748","v":88.0},{"d":33988,"s":16876,"t":"0754","v":88.0},{"d":33988,"s":16876,"t":"0800","v":88.0},{"d":33988,"s":16876,"t":"0806","v":87.9},{"d":33988,"s":16876,"t":"0812","v":88.0},{"d":33988,"s":16876,"t":"0818","v":88.1},{"d":33988,"s":16876,"t":"0824","v":88.0},{"d":33988,"s":16876,"t":"0830","v":88.0},{"d":33988,"s":16876,"t":"0836","v":88.0},{"d":33988,"s":16876,"t":"0842","v":87.9},{"d":33988,"s":16876,"t":"0848","v":88.0},{"d":33988,"s":16876,"t":"0854","v":88.0},{"d":33988,"s":16876,"t":"0900","v":88.0},{"d":33988,"s":16876,"t":"0906","v":88.0},{"d":33988,"s":16876,"t":"0912","v":87.9},{"d":33988,"s":16876,"t":"0918","v":88.0},{"d":33988,"s":16876,"t":"0924","v":87.9},{"d":33988,"s":16876,"t":"0930","v":88.1},{"d":33988,"s":16876,"t":"0936","v":88.0},{"d":33988,"s":16876,"t":"0942","v":88.0},{"d":33988,"s":16876,"t":"0948","v":88.0},{"d":33988,"s":16876,"t":"0954","v":87.9},{"d":33988,"s":16876,"t":"1000","v":87.9},
{"d":33988,"s":10886,"t":"0300","v":86.7},{"d":33988,"s":10886,"t":"0306","v":86.5},{"d":33988,"s":10886,"t":"0312","v":86.5},{"d":33988,"s":10886,"t":"0318","v":86.6},{"d":33988,"s":10886,"t":"0324","v":86.5},{"d":33988,"s":10886,"t":"0330","v":86.5},{"d":33988,"s":10886,"t":"0336","v":86.5},{"d":33988,"s":10886,"t":"0342","v":86.6},{"d":33988,"s":10886,"t":"0348","v":86.4},{"d":33988,"s":10886,"t":"0354","v":86.5},{"d":33988,"s":10886,"t":"0400","v":86.5},{"d":33988,"s":10886,"t":"0406","v":86.6},{"d":33988,"s":10886,"t":"0412","v":86.6},{"d":33988,"s":10886,"t":"0418","v":86.5},{"d":33988,"s":10886,"t":"0424","v":86.6},{"d":33988,"s":10886,"t":"0430","v":86.5},{"d":33988,"s":10886,"t":"0436","v":86.5},{"d":33988,"s":10886,"t":"0442","v":86.5},{"d":33988,"s":10886,"t":"0448","v":86.5},{"d":33988,"s":10886,"t":"0454","v":86.5},{"d":33988,"s":10886,"t":"0500","v":86.5},{"d":33988,"s":10886,"t":"0506","v":86.5},{"d":33988,"s":10886,"t":"0512","v":86.5},{"d":33988,"s":10886,"t":"0518","v":86.5},{"d":33988,"s":10886,"t":"0524","v":86.5},{"d":33988,"s":10886,"t":"0530","v":86.4},{"d":33988,"s":10886,"t":"0536","v":86.5},{"d":33988,"s":10886,"t":"0542","v":86.4},{"d":33988,"s":10886,"t":"0548","v":86.5},{"d":33988,"s":10886,"t":"0554","v":86.5},{"d":33988,"s":10886,"t":"0600","v":86.5},{"d":33988,"s":10886,"t":"0606","v":86.5},{"d":33988,"s":10886,"t":"0612","v":86.5},{"d":33988,"s":10886,"t":"0618","v":86.4},{"d":33988,"s":10886,"t":"0624","v":86.5},{"d":33988,"s":10886,"t":"0630","v":86.5},{"d":33988,"s":10886,"t":"0636","v":86.5},{"d":33988,"s":10886,"t":"0642","v":86.5},{"d":33988,"s":10886,"t":"0648","v":86.6},{"d":33988,"s":10886,"t":"0654","v":86.6},{"d":33988,"s":10886,"t":"0700","v":86.5},{"d":33988,"s":10886,"t":"0706","v":86.4},{"d":33988,"s":10886,"t":"0712","v":86.5},{"d":33988,"s":10886,"t":"0718","v":86.4},{"d":33988,"s":10886,"t":"0724","v":86.5},{"d":33988,"s":10886,"t":"0730","v":86.5},{"d":33988,"s":10886,"t":"0736","v":86.5},{"d":33988,"s":10886,"t":"0742","v":86.5},{"d":33988,"s":10886,"t":"0748","v":86.5},{"d":33988,"s":10886,"t":"0754","v":86.5},{"d":33988,"s":10886,"t":"0800","v":86.5},{"d":33988,"s":10886,"t":"0806","v":86.6},{"d":33988,"s":10886,"t":"0812","v":86.5},{"d":33988,"s":10886,"t":"0818","v":86.5},{"d":33988,"s":10886,"t":"0824","v":86.6},{"d":33988,"s":10886,"t":"0830","v":86.6},{"d":33988,"s":10886,"t":"0836","v":86.4},{"d":33988,"s":10886,"t":"0842","v":86.5},{"d":33988,"s":10886,"t":"0848","v":86.4},{"d":33988,"s":10886,"t":"0854","v":86.5},{"d":33988,"s":10886,"t":"0900","v":86.5},{"d":33988,"s":10886,"t":"0906","v":86.5},{"d":33988,"s":10886,"t":"0912","v":86.5},{"d":33988,"s":10886,"t":"0918","v":86.5},{"d":33988,"s":10886,"t":"0924","v":86.6},{"d":33988,"s":10886,"t":"0930","v":86.5},{"d":33988,"s":10886,"t":"0936","v":86.5},{"d":33988,"s":10886,"t":"0942","v":86.5},{"d":33988,"s":10886,"t":"0948","v":86.5},{"d":33988,"s":10886,"t":"0954","v":86.5},{"d":33988,"s":10886,"t":"1000","v":86.5},
{"d":33988,"s":3491,"t":"0300","v":86.1},{"d":33988,"s":3491,"t":"0306","v":86.1},{"d":33988,"s":3491,"t":"0312","v":86.0},{"d":33988,"s":3491,"t":"0318","v":86.0},{"d":33988,"s":3491,"t":"0324","v":86.0},{"d":33988,"s":3491,"t":"0330","v":86.1},{"d":33988,"s":3491,"t":"0336","v":86.0},{"d":33988,"s":3491,"t":"0342","v":86.1},{"d":33988,"s":3491,"t":"0348","v":86.0},{"d":33988,"s":3491,"t":"0354","v":86.1},{"d":33988,"s":3491,"t":"0400","v":86.0},{"d":33988,"s":3491,"t":"0406","v":86.0},{"d":33988,"s":3491,"t":"0412","v":86.0},{"d":33988,"s":3491,"t":"0418","v":86.1},{"d":33988,"s":3491,"t":"0424","v":86.0},{"d":33988,"s":3491,"t":"0430","v":86.0},{"d":33988,"s":3491,"t":"0436","v":86.1},{"d":33988,"s":3491,"t":"0442","v":86.0},{"d":33988,"s":3491,"t":"0448","v":86.0},{"d":33988,"s":3491,"t":"0454","v":86.1},{"d":33988,"s":3491,"t":"0500","v":86.0},{"d":33988,"s":3491,"t":"0506","v":86.1},{"d":33988,"s":3491,"t":"0512","v":86.0},{"d":33988,"s":3491,"t":"0518","v":86.0},{"d":33988,"s":3491,"t":"0524","v":86.1},{"d":33988,"s":3491,"t":"0530","v":86.0},{"d":33988,"s":3491,"t":"0536","v":86.0},{"d":33988,"s":3491,"t":"0542","v":85.9},{"d":33988,"s":3491,"t":"0548","v":86.0},{"d":33988,"s":3491,"t":"0554","v":86.1},{"d":33988,"s":3491,"t":"0600","v":86.0},{"d":33988,"s":3491,"t":"0606","v":86.0},{"d":33988,"s":3491,"t":"0612","v":86.0},{"d":33988,"s":3491,"t":"0618","v":86.1},{"d":33988,"s":3491,"t":"0624","v":86.0},{"d":33988,"s":3491,"t":"0630","v":86.0},{"d":33988,"s":3491,"t":"0636","v":86.1},{"d":33988,"s":3491,"t":"0642","v":86.0},{"d":33988,"s":3491,"t":"0648","v":86.2},{"d":33988,"s":3491,"t":"0654","v":86.0},{"d":33988,"s":3491,"t":"0700","v":86.0},{"d":33988,"s":3491,"t":"0706","v":86.0},{"d":33988,"s":3491,"t":"0712","v":86.1},{"d":33988,"s":3491,"t":"0718","v":86.0},{"d":33988,"s":3491,"t":"0724","v":86.0},{"d":33988,"s":3491,"t":"0730","v":86.1},{"d":33988,"s":3491,"t":"0736","v":86.0},{"d":33988,"s":3491,"t":"0742","v":86.0},{"d":33988,"s":3491,"t":"0748","v":86.1},{"d":33988,"s":3491,"t":"0754","v":86.0},{"d":33988,"s":3491,"t":"0800","v":86.0},{"d":33988,"s":3491,"t":"0806","v":86.1},{"d":33988,"s":3491,"t":"0812","v":86.0},{"d":33988,"s":3491,"t":"0818","v":86.0},{"d":33988,"s":3491,"t":"0824","v":86.1},{"d":33988,"s":3491,"t":"0830","v":86.1},{"d":33988,"s":3491,"t":"0836","v":86.0},{"d":33988,"s":3491,"t":"0842","v":86.0},{"d":33988,"s":3491,"t":"0848","v":86.1},{"d":33988,"s":3491,"t":"0854","v":86.0},{"d":33988,"s":3491,"t":"0900","v":86.0},{"d":33988,"s":3491,"t":"0906","v":86.0},{"d":33988,"s":3491,"t":"0912","v":86.1},{"d":33988,"s":3491,"t":"0918","v":86.0},{"d":33988,"s":3491,"t":"0924","v":86.0},{"d":33988,"s":3491,"t":"0930","v":86.1},{"d":33988,"s":3491,"t":"0936","v":86.0},{"d":33988,"s":3491,"t":"0942","v":86.1},{"d":33988,"s":3491,"t":"0948","v":86.0},{"d":33988,"s":3491,"t":"0954","v":86.0},{"d":33988,"s":3491,"t":"1000","v":86.0},
{"d":50178,"s":16881,"t":"0300","v":120.9},{"d":50178,"s":16881,"t":"0304","v":123.6},{"d":50178,"s":16881,"t":"0308","v":120.6},{"d":50178,"s":16881,"t":"0312","v":120.6},{"d":50178,"s":16881,"t":"0316","v":121.2},{"d":50178,"s":16881,"t":"0320","v":120.7},{"d":50178,"s":16881,"t":"0324","v":121.5},{"d":50178,"s":16881,"t":"0328","v":120.9},{"d":50178,"s":16881,"t":"0332","v":121.0},{"d":50178,"s":16881,"t":"0336","v":120.7},{"d":50178,"s":16881,"t":"0340","v":120.4},{"d":50178,"s":16881,"t":"0344","v":122.7},{"d":50178,"s":16881,"t":"0348","v":119.8},{"d":50178,"s":16881,"t":"0352","v":119.9},{"d":50178,"s":16881,"t":"0356","v":120.3},{"d":50178,"s":16881,"t":"0400","v":120.6},{"d":50178,"s":16881,"t":"0404","v":121.0},{"d":50178,"s":16881,"t":"0408","v":122.5},{"d":50178,"s":16881,"t":"0412","v":121.2},{"d":50178,"s":16881,"t":"0416","v":120.8},{"d":50178,"s":16881,"t":"0420","v":120.2},{"d":50178,"s":16881,"t":"0424","v":123.6},{"d":50178,"s":16881,"t":"0428","v":121.6},{"d":50178,"s":16881,"t":"0432","v":122.0},{"d":50178,"s":16881,"t":"0436","v":121.5},{"d":50178,"s":16881,"t":"0440","v":120.2},{"d":50178,"s":16881,"t":"0444","v":119.6},{"d":50178,"s":16881,"t":"0448","v":121.0},{"d":50178,"s":16881,"t":"0452","v":121.1},{"d":50178,"s":16881,"t":"0456","v":120.8},{"d":50178,"s":16881,"t":"0500","v":120.6},{"d":50178,"s":16881,"t":"0504","v":120.9},{"d":50178,"s":16881,"t":"0508","v":121.6},{"d":50178,"s":16881,"t":"0512","v":121.1},{"d":50178,"s":16881,"t":"0516","v":120.7},{"d":50178,"s":16881,"t":"0520","v":120.9},{"d":50178,"s":16881,"t":"0524","v":119.9},{"d":50178,"s":16881,"t":"0528","v":120.9},{"d":50178,"s":16881,"t":"0532","v":122.6},{"d":50178,"s":16881,"t":"0536","v":120.5},{"d":50178,"s":16881,"t":"0540","v":120.5},{"d":50178,"s":16881,"t":"0544","v":118.8},{"d":50178,"s":16881,"t":"0548","v":120.7},{"d":50178,"s":16881,"t":"0552","v":121.8},{"d":50178,"s":16881,"t":"0556","v":122.4},{"d":50178,"s":16881,"t":"0600","v":120.4},{"d":50178,"s":16881,"t":"0604","v":121.3},{"d":50178,"s":16881,"t":"0608","v":121.3},{"d":50178,"s":16881,"t":"0612","v":121.6},{"d":50178,"s":16881,"t":"0616","v":127.9},{"d":50178,"s":16881,"t":"0620","v":133.2},{"d":50178,"s":16881,"t":"0624","v":133.0},{"d":50178,"s":16881,"t":"0628","v":133.4},{"d":50178,"s":16881,"t":"0632","v":133.6},{"d":50178,"s":16881,"t":"0636","v":133.3},{"d":50178,"s":16881,"t":"0640","v":133.4},{"d":50178,"s":16881,"t":"0644","v":133.0},{"d":50178,"s":16881,"t":"0648","v":134.6},{"d":50178,"s":16881,"t":"0652","v":133.2},{"d":50178,"s":16881,"t":"0656","v":133.1},{"d":50178,"s":16881,"t":"0700","v":134.3},{"d":50178,"s":16881,"t":"0704","v":134.0},{"d":50178,"s":16881,"t":"0708","v":134.6},{"d":50178,"s":16881,"t":"0712","v":133.4},{"d":50178,"s":16881,"t":"0716","v":133.9},{"d":50178,"s":16881,"t":"0720","v":134.1},{"d":50178,"s":16881,"t":"0724","v":133.8},{"d":50178,"s":16881,"t":"0728","v":134.9},{"d":50178,"s":16881,"t":"0732","v":133.4},{"d":50178,"s":16881,"t":"0736","v":134.3},{"d":50178,"s":16881,"t":"0740","v":127.3},{"d":50178,"s":16881,"t":"0744","v":120.4},{"d":50178,"s":16881,"t":"0748","v":120.2},{"d":50178,"s":16881,"t":"0752","v":121.0},{"d":50178,"s":16881,"t":"0756","v":121.5},{"d":50178,"s":16881,"t":"0800","v":120.6},{"d":50178,"s":16881,"t":"0804","v":121.4},{"d":50178,"s":16881,"t":"0808","v":121.4},{"d":50178,"s":16881,"t":"0812","v":120.9},{"d":50178,"s":16881,"t":"0816","v":120.4},{"d":50178,"s":16881,"t":"0820","v":120.9},{"d":50178,"s":16881,"t":"0824","v":120.4},{"d":50178,"s":16881,"t":"0828","v":120.9},{"d":50178,"s":16881,"t":"0832","v":120.7},{"d":50178,"s":16881,"t":"0836","v":121.0},{"d":50178,"s":16881,"t":"0840","v":120.4},{"d":50178,"s":16881,"t":"0844","v":120.0},{"d":50178,"s":16881,"t":"0848","v":120.5},{"d":50178,"s":16881,"t":"0852","v":121.3},{"d":50178,"s":16881,"t":"0856","v":121.9},{"d":50178,"s":16881,"t":"0900","v":120.5},{"d":50178,"s":16881,"t":"0904","v":120.7},{"d":50178,"s":16881,"t":"0908","v":120.7},{"d":50178,"s":16881,"t":"0912","v":122.3},{"d":50178,"s":16881,"t":"0916","v":121.1},{"d":50178,"s":16881,"t":"0920","v":119.9},{"d":50178,"s":16881,"t":"0924","v":120.8},{"d":50178,"s":16881,"t":"0928","v":121.6},{"d":50178,"s":16881,"t":"0932","v":121.8},{"d":50178,"s":16881,"t":"0936","v":120.9},{"d":50178,"s":16881,"t":"0940","v":121.0},{"d":50178,"s":16881,"t":"0944","v":118.2},{"d":50178,"s":16881,"t":"0948","v":120.7},{"d":50178,"s":16881,"t":"0952","v":121.1},{"d":50178,"s":16881,"t":"0956","v":120.6},
{"d":50178,"s":16876,"t":"0300","v":109.0},{"d":50178,"s":16876,"t":"0306","v":109.0},{"d":50178,"s":16876,"t":"0312","v":109.1},{"d":50178,"s":16876,"t":"0318","v":109.1},{"d":50178,"s":16876,"t":"0324","v":109.2},{"d":50178,"s":16876,"t":"0330","v":109.0},{"d":50178,"s":16876,"t":"0336","v":109.1},{"d":50178,"s":16876,"t":"0342","v":109.0},{"d":50178,"s":16876,"t":"0348","v":109.1},{"d":50178,"s":16876,"t":"0354","v":109.0},{"d":50178,"s":16876,"t":"0400","v":109.1},{"d":50178,"s":16876,"t":"0406","v":109.2},{"d":50178,"s":16876,"t":"0412","v":109.0},{"d":50178,"s":16876,"t":"0418","v":109.1},{"d":50178,"s":16876,"t":"0424","v":109.0},{"d":50178,"s":16876,"t":"0430","v":109.2},{"d":50178,"s":16876,"t":"0436","v":109.1},{"d":50178,"s":16876,"t":"0442","v":109.0},{"d":50178,"s":16876,"t":"0448","v":109.0},
{"d":50178,"s":16876,"t":"0454","v":114.6},{"d":50178,"s":16876,"t":"0500","v":114.7},{"d":50178,"s":16876,"t":"0506","v":114.8},{"d":50178,"s":16876,"t":"0512","v":114.8},{"d":50178,"s":16876,"t":"0518","v":114.7},{"d":50178,"s":16876,"t":"0524","v":114.8},{"d":50178,"s":16876,"t":"0530","v":114.7},{"d":50178,"s":16876,"t":"0536","v":114.7},{"d":50178,"s":16876,"t":"0542","v":114.6},{"d":50178,"s":16876,"t":"0548","v":114.8},{"d":50178,"s":16876,"t":"0554","v":114.7},{"d":50178,"s":16876,"t":"0600","v":114.8},{"d":50178,"s":16876,"t":"0606","v":114.8},{"d":50178,"s":16876,"t":"0612","v":114.7},{"d":50178,"s":16876,"t":"0618","v":114.7},{"d":50178,"s":16876,"t":"0624","v":114.8},{"d":50178,"s":16876,"t":"0630","v":114.9},{"d":50178,"s":16876,"t":"0636","v":114.7},{"d":50178,"s":16876,"t":"0642","v":114.8},{"d":50178,"s":16876,"t":"0648","v":114.7},{"d":50178,"s":16876,"t":"0654","v":114.7},{"d":50178,"s":16876,"t":"0700","v":114.8},{"d":50178,"s":16876,"t":"0706","v":114.9},{"d":50178,"s":16876,"t":"0712","v":114.7},{"d":50178,"s":16876,"t":"0718","v":114.7},{"d":50178,"s":16876,"t":"0724","v":114.8},{"d":50178,"s":16876,"t":"0730","v":114.7},{"d":50178,"s":16876,"t":"0736","v":114.8},{"d":50178,"s":16876,"t":"0742","v":114.7},{"d":50178,"s":16876,"t":"0748","v":114.7},{"d":50178,"s":16876,"t":"0754","v":114.8},{"d":50178,"s":16876,"t":"0800","v":114.8},{"d":50178,"s":16876,"t":"0806","v":114.7},{"d":50178,"s":16876,"t":"0812","v":114.8},{"d":50178,"s":16876,"t":"0818","v":114.7},{"d":50178,"s":16876,"t":"0824","v":114.8},{"d":50178,"s":16876,"t":"0830","v":114.7},{"d":50178,"s":16876,"t":"0836","v":114.8},{"d":50178,"s":16876,"t":"0842","v":114.8},{"d":50178,"s":16876,"t":"0848","v":114.7},{"d":50178,"s":16876,"t":"0854","v":114.8},{"d":50178,"s":16876,"t":"0900","v":114.8},{"d":50178,"s":16876,"t":"0906","v":114.7},{"d":50178,"s":16876,"t":"0912","v":114.7},{"d":50178,"s":16876,"t":"0918","v":114.6},{"d":50178,"s":16876,"t":"0924","v":114.8},{"d":50178,"s":16876,"t":"0930","v":114.8},{"d":50178,"s":16876,"t":"0936","v":114.7},{"d":50178,"s":16876,"t":"0942","v":114.7},{"d":50178,"s":16876,"t":"0948","v":114.7},{"d":50178,"s":16876,"t":"0954","v":114.7},
{"d":50178,"s":3491,"t":"0300","v":109.7},{"d":50178,"s":3491,"t":"0306","v":109.7},{"d":50178,"s":3491,"t":"0312","v":109.7},{"d":50178,"s":3491,"t":"0318","v":109.7},{"d":50178,"s":3491,"t":"0324","v":109.7},{"d":50178,"s":3491,"t":"0330","v":109.7},{"d":50178,"s":3491,"t":"0336","v":109.6},{"d":50178,"s":3491,"t":"0342","v":109.7},{"d":50178,"s":3491,"t":"0348","v":109.7},{"d":50178,"s":3491,"t":"0354","v":109.7},{"d":50178,"s":3491,"t":"0400","v":109.8},{"d":50178,"s":3491,"t":"0406","v":109.7},{"d":50178,"s":3491,"t":"0412","v":109.7},{"d":50178,"s":3491,"t":"0418","v":109.7},{"d":50178,"s":3491,"t":"0424","v":109.7},{"d":50178,"s":3491,"t":"0430","v":109.7},{"d":50178,"s":3491,"t":"0436","v":109.7},{"d":50178,"s":3491,"t":"0442","v":109.6},{"d":50178,"s":3491,"t":"0448","v":109.7},
{"d":50178,"s":3491,"t":"0454","v":103.9},{"d":50178,"s":3491,"t":"0500","v":103.9},{"d":50178,"s":3491,"t":"0506","v":103.9},{"d":50178,"s":3491,"t":"0512","v":103.9},{"d":50178,"s":3491,"t":"0518","v":103.8},{"d":50178,"s":3491,"t":"0524","v":103.9},{"d":50178,"s":3491,"t":"0530","v":103.9},{"d":50178,"s":3491,"t":"0536","v":103.8},{"d":50178,"s":3491,"t":"0542","v":104.0},{"d":50178,"s":3491,"t":"0548","v":103.9},{"d":50178,"s":3491,"t":"0554","v":103.9},{"d":50178,"s":3491,"t":"0600","v":103.9},{"d":50178,"s":3491,"t":"0606","v":103.9},{"d":50178,"s":3491,"t":"0612","v":103.9},{"d":50178,"s":3491,"t":"0618","v":103.9},{"d":50178,"s":3491,"t":"0624","v":103.8},{"d":50178,"s":3491,"t":"0630","v":103.9},{"d":50178,"s":3491,"t":"0636","v":103.9},{"d":50178,"s":3491,"t":"0642","v":103.9},{"d":50178,"s":3491,"t":"0648","v":103.9},{"d":50178,"s":3491,"t":"0654","v":103.9},{"d":50178,"s":3491,"t":"0700","v":103.9},{"d":50178,"s":3491,"t":"0706","v":104.0},{"d":50178,"s":3491,"t":"0712","v":103.9},{"d":50178,"s":3491,"t":"0718","v":103.9},{"d":50178,"s":3491,"t":"0724","v":103.9},{"d":50178,"s":3491,"t":"0730","v":103.9},{"d":50178,"s":3491,"t":"0736","v":103.9},{"d":50178,"s":3491,"t":"0742","v":103.9},{"d":50178,"s":3491,"t":"0748","v":103.9},{"d":50178,"s":3491,"t":"0754","v":104.0},{"d":50178,"s":3491,"t":"0800","v":103.9},{"d":50178,"s":3491,"t":"0806","v":103.9},{"d":50178,"s":3491,"t":"0812","v":104.0},{"d":50178,"s":3491,"t":"0818","v":103.9},{"d":50178,"s":3491,"t":"0824","v":103.9},{"d":50178,"s":3491,"t":"0830","v":103.9},{"d":50178,"s":3491,"t":"0836","v":103.9},{"d":50178,"s":3491,"t":"0842","v":103.9},{"d":50178,"s":3491,"t":"0848","v":103.9},{"d":50178,"s":3491,"t":"0854","v":103.9},{"d":50178,"s":3491,"t":"0900","v":103.8},{"d":50178,"s":3491,"t":"0906","v":103.9},{"d":50178,"s":3491,"t":"0912","v":103.9},{"d":50178,"s":3491,"t":"0918","v":103.9},{"d":50178,"s":3491,"t":"0924","v":103.9},{"d":50178,"s":3491,"t":"0930","v":103.9},{"d":50178,"s":3491,"t":"0936","v":103.9},{"d":50178,"s":3491,"t":"0942","v":103.9},{"d":50178,"s":3491,"t":"0948","v":103.9},{"d":50178,"s":3491,"t":"0954","v":103.9},
{"d":50178,"s":701,"t":"0300","v":107.9},{"d":50178,"s":701,"t":"0306","v":108.3},{"d":50178,"s":701,"t":"0312","v":108.2},{"d":50178,"s":701,"t":"0318","v":108.0},{"d":50178,"s":701,"t":"0324","v":108.1},{"d":50178,"s":701,"t":"0330","v":108.4},{"d":50178,"s":701,"t":"0336","v":107.9},{"d":50178,"s":701,"t":"0342","v":108.3},{"d":50178,"s":701,"t":"0348","v":108.4},{"d":50178,"s":701,"t":"0354","v":108.2},{"d":50178,"s":701,"t":"0400","v":108.1},{"d":50178,"s":701,"t":"0406","v":107.9},{"d":50178,"s":701,"t":"0412","v":108.3},{"d":50178,"s":701,"t":"0418","v":108.5},{"d":50178,"s":701,"t":"0424","v":108.1},{"d":50178,"s":701,"t":"0430","v":108.4},{"d":50178,"s":701,"t":"0436","v":108.1},{"d":50178,"s":701,"t":"0442","v":108.3},{"d":50178,"s":701,"t":"0448","v":108.2},{"d":50178,"s":701,"t":"0454","v":108.4},{"d":50178,"s":701,"t":"0500","v":108.5},{"d":50178,"s":701,"t":"0506","v":108.0},{"d":50178,"s":701,"t":"0512","v":108.1},{"d":50178,"s":701,"t":"0518","v":108.2},{"d":50178,"s":701,"t":"0524","v":108.5},{"d":50178,"s":701,"t":"0530","v":108.7},{"d":50178,"s":701,"t":"0536","v":108.1},{"d":50178,"s":701,"t":"0542","v":108.0},{"d":50178,"s":701,"t":"0548","v":109.5},{"d":50178,"s":701,"t":"0554","v":108.6},{"d":50178,"s":701,"t":"0600","v":108.1},{"d":50178,"s":701,"t":"0606","v":108.2},{"d":50178,"s":701,"t":"0612","v":108.0},{"d":50178,"s":701,"t":"0618","v":110.2},{"d":50178,"s":701,"t":"0624","v":108.6},{"d":50178,"s":701,"t":"0630","v":108.7},{"d":50178,"s":701,"t":"0636","v":108.2},{"d":50178,"s":701,"t":"0642","v":108.3},{"d":50178,"s":701,"t":"0648","v":108.5},{"d":50178,"s":701,"t":"0654","v":108.1},{"d":50178,"s":701,"t":"0700","v":108.2},{"d":50178,"s":701,"t":"0706","v":108.8},{"d":50178,"s":701,"t":"0712","v":108.6},{"d":50178,"s":701,"t":"0718","v":109.4},{"d":50178,"s":701,"t":"0724","v":108.5},{"d":50178,"s":701,"t":"0730","v":108.2},{"d":50178,"s":701,"t":"0736","v":108.3},{"d":50178,"s":701,"t":"0742","v":108.5},{"d":50178,"s":701,"t":"0748","v":108.1},{"d":50178,"s":701,"t":"0754","v":108.3},{"d":50178,"s":701,"t":"0800","v":108.2},{"d":50178,"s":701,"t":"0806","v":108.3},{"d":50178,"s":701,"t":"0812","v":109.7},{"d":50178,"s":701,"t":"0818","v":108.2},{"d":50178,"s":701,"t":"0824","v":108.8},{"d":50178,"s":701,"t":"0830","v":108.6},{"d":50178,"s":701,"t":"0836","v":108.9},{"d":50178,"s":701,"t":"0842","v":110.9},{"d":50178,"s":701,"t":"0848","v":108.7},{"d":50178,"s":701,"t":"0854","v":108.4},{"d":50178,"s":701,"t":"0900","v":108.1},{"d":50178,"s":701,"t":"0906","v":108.3},{"d":50178,"s":701,"t":"0912","v":108.7},{"d":50178,"s":701,"t":"0918","v":108.6},{"d":50178,"s":701,"t":"0924","v":108.0},{"d":50178,"s":701,"t":"0930","v":108.3},{"d":50178,"s":701,"t":"0936","v":108.4},{"d":50178,"s":701,"t":"0942","v":107.9},{"d":50178,"s":701,"t":"0948","v":108.6},{"d":50178,"s":701,"t":"0954","v":108.5},{"d":50178,"s":701,"t":"1000","v":108.7},
{"d":50178,"s":10745,"t":"0306","v":99.1},{"d":50178,"s":10745,"t":"0312","v":98.8},{"d":50178,"s":10745,"t":"0318","v":98.8},{"d":50178,"s":10745,"t":"0324","v":98.9},{"d":50178,"s":10745,"t":"0330","v":98.9},{"d":50178,"s":10745,"t":"0336","v":98.8},{"d":50178,"s":10745,"t":"0342","v":98.8},{"d":50178,"s":10745,"t":"0348","v":98.8},{"d":50178,"s":10745,"t":"0354","v":98.9},{"d":50178,"s":10745,"t":"0400","v":98.9},{"d":50178,"s":10745,"t":"0406","v":98.9},{"d":50178,"s":10745,"t":"0412","v":99.0},{"d":50178,"s":10745,"t":"0418","v":98.8},{"d":50178,"s":10745,"t":"0424","v":98.9},{"d":50178,"s":10745,"t":"0430","v":98.9},{"d":50178,"s":10745,"t":"0436","v":98.8},{"d":50178,"s":10745,"t":"0442","v":98.9},{"d":50178,"s":10745,"t":"0448","v":98.9},{"d":50178,"s":10745,"t":"0454","v":98.8},{"d":50178,"s":10745,"t":"0500","v":98.9},{"d":50178,"s":10745,"t":"0506","v":98.8},{"d":50178,"s":10745,"t":"0512","v":98.9},{"d":50178,"s":10745,"t":"0518","v":98.8},{"d":50178,"s":10745,"t":"0524","v":98.9},{"d":50178,"s":10745,"t":"0530","v":98.8},{"d":50178,"s":10745,"t":"0536","v":98.9},{"d":50178,"s":10745,"t":"0542","v":98.8},{"d":50178,"s":10745,"t":"0548","v":98.8},{"d":50178,"s":10745,"t":"0554","v":98.8},{"d":50178,"s":10745,"t":"0600","v":98.9},{"d":50178,"s":10745,"t":"0606","v":99.1},{"d":50178,"s":10745,"t":"0612","v":98.9},{"d":50178,"s":10745,"t":"0618","v":98.8},{"d":50178,"s":10745,"t":"0624","v":98.9},{"d":50178,"s":10745,"t":"0630","v":98.8},{"d":50178,"s":10745,"t":"0636","v":98.9},{"d":50178,"s":10745,"t":"0642","v":98.9},{"d":50178,"s":10745,"t":"0648","v":98.8},{"d":50178,"s":10745,"t":"0654","v":98.8},{"d":50178,"s":10745,"t":"0700","v":98.8},{"d":50178,"s":10745,"t":"0706","v":98.9},{"d":50178,"s":10745,"t":"0712","v":99.0},{"d":50178,"s":10745,"t":"0718","v":98.9},{"d":50178,"s":10745,"t":"0724","v":98.8},{"d":50178,"s":10745,"t":"0730","v":98.9},{"d":50178,"s":10745,"t":"0736","v":98.8},{"d":50178,"s":10745,"t":"0742","v":98.9},{"d":50178,"s":10745,"t":"0748","v":98.8},{"d":50178,"s":10745,"t":"0754","v":99.0},{"d":50178,"s":10745,"t":"0800","v":98.8},{"d":50178,"s":10745,"t":"0806","v":98.8},{"d":50178,"s":10745,"t":"0812","v":98.9},{"d":50178,"s":10745,"t":"0818","v":98.8},{"d":50178,"s":10745,"t":"0824","v":98.9},{"d":50178,"s":10745,"t":"0830","v":99.0},{"d":50178,"s":10745,"t":"0836","v":98.8},{"d":50178,"s":10745,"t":"0842","v":98.9},{"d":50178,"s":10745,"t":"0848","v":98.8},{"d":50178,"s":10745,"t":"0854","v":98.9},{"d":50178,"s":10745,"t":"0900","v":98.8},{"d":50178,"s":10745,"t":"0906","v":99.1},{"d":50178,"s":10745,"t":"0912","v":98.9},{"d":50178,"s":10745,"t":"0918","v":98.8},{"d":50178,"s":10745,"t":"0924","v":98.9},{"d":50178,"s":10745,"t":"0930","v":98.8},{"d":50178,"s":10745,"t":"0936","v":98.9},{"d":50178,"s":10745,"t":"0942","v":98.9},{"d":50178,"s":10745,"t":"0948","v":98.9},{"d":50178,"s":10745,"t":"0954","v":98.8},{"d":50178,"s":10745,"t":"1000","v":98.8},
{"d":50178,"s":10886,"t":"0300","v":95.6},{"d":50178,"s":10886,"t":"0306","v":95.6},{"d":50178,"s":10886,"t":"0312","v":95.5},{"d":50178,"s":10886,"t":"0318","v":95.6},{"d":50178,"s":10886,"t":"0324","v":95.5},{"d":50178,"s":10886,"t":"0330","v":95.4},{"d":50178,"s":10886,"t":"0336","v":95.5},{"d":50178,"s":10886,"t":"0342","v":95.5},{"d":50178,"s":10886,"t":"0348","v":95.4},{"d":50178,"s":10886,"t":"0354","v":95.5},{"d":50178,"s":10886,"t":"0400","v":95.5},{"d":50178,"s":10886,"t":"0406","v":95.5},{"d":50178,"s":10886,"t":"0412","v":95.5},{"d":50178,"s":10886,"t":"0418","v":95.5},{"d":50178,"s":10886,"t":"0424","v":95.6},{"d":50178,"s":10886,"t":"0430","v":95.5},{"d":50178,"s":10886,"t":"0436","v":95.5},{"d":50178,"s":10886,"t":"0442","v":95.5},{"d":50178,"s":10886,"t":"0448","v":95.5},{"d":50178,"s":10886,"t":"0454","v":95.5},{"d":50178,"s":10886,"t":"0500","v":95.4},{"d":50178,"s":10886,"t":"0506","v":95.3},{"d":50178,"s":10886,"t":"0512","v":95.4},{"d":50178,"s":10886,"t":"0518","v":95.3},{"d":50178,"s":10886,"t":"0524","v":95.4},{"d":50178,"s":10886,"t":"0530","v":95.4},{"d":50178,"s":10886,"t":"0536","v":95.4},{"d":50178,"s":10886,"t":"0542","v":95.4},{"d":50178,"s":10886,"t":"0548","v":95.4},{"d":50178,"s":10886,"t":"0554","v":95.4},{"d":50178,"s":10886,"t":"0600","v":95.4},{"d":50178,"s":10886,"t":"0606","v":95.3},{"d":50178,"s":10886,"t":"0612","v":95.4},{"d":50178,"s":10886,"t":"0618","v":95.4},{"d":50178,"s":10886,"t":"0624","v":95.4},{"d":50178,"s":10886,"t":"0630","v":95.4},{"d":50178,"s":10886,"t":"0636","v":95.4},{"d":50178,"s":10886,"t":"0642","v":95.4},{"d":50178,"s":10886,"t":"0648","v":95.4},{"d":50178,"s":10886,"t":"0654","v":95.4},{"d":50178,"s":10886,"t":"0700","v":95.4},{"d":50178,"s":10886,"t":"0706","v":95.4},{"d":50178,"s":10886,"t":"0712","v":95.4},{"d":50178,"s":10886,"t":"0718","v":95.4},{"d":50178,"s":10886,"t":"0724","v":95.4},{"d":50178,"s":10886,"t":"0730","v":95.4},{"d":50178,"s":10886,"t":"0736","v":95.4},{"d":50178,"s":10886,"t":"0742","v":95.4},{"d":50178,"s":10886,"t":"0748","v":95.4},{"d":50178,"s":10886,"t":"0754","v":95.6},{"d":50178,"s":10886,"t":"0800","v":95.4},{"d":50178,"s":10886,"t":"0806","v":95.4},{"d":50178,"s":10886,"t":"0812","v":95.5},{"d":50178,"s":10886,"t":"0818","v":95.3},{"d":50178,"s":10886,"t":"0824","v":95.4},{"d":50178,"s":10886,"t":"0830","v":95.4},{"d":50178,"s":10886,"t":"0836","v":95.4},{"d":50178,"s":10886,"t":"0842","v":95.4},{"d":50178,"s":10886,"t":"0848","v":95.4},{"d":50178,"s":10886,"t":"0854","v":95.4},{"d":50178,"s":10886,"t":"0900","v":95.5},{"d":50178,"s":10886,"t":"0906","v":95.4},{"d":50178,"s":10886,"t":"0912","v":95.5},{"d":50178,"s":10886,"t":"0918","v":95.5},{"d":50178,"s":10886,"t":"0924","v":95.4},{"d":50178,"s":10886,"t":"0930","v":95.5},{"d":50178,"s":10886,"t":"0936","v":95.4},{"d":50178,"s":10886,"t":"0942","v":95.4},{"d":50178,"s":10886,"t":"0948","v":95.5},{"d":50178,"s":10886,"t":"0954","v":95.5},
{"d":50178,"s":16409,"t":"0300","v":94.3},{"d":50178,"s":16409,"t":"0306","v":94.3},{"d":50178,"s":16409,"t":"0312","v":94.2},{"d":50178,"s":16409,"t":"0318","v":94.2},{"d":50178,"s":16409,"t":"0324","v":94.2},{"d":50178,"s":16409,"t":"0330","v":94.3},{"d":50178,"s":16409,"t":"0336","v":94.2},{"d":50178,"s":16409,"t":"0342","v":94.3},{"d":50178,"s":16409,"t":"0348","v":94.3},{"d":50178,"s":16409,"t":"0354","v":94.4},{"d":50178,"s":16409,"t":"0400","v":94.4},{"d":50178,"s":16409,"t":"0406","v":94.3},{"d":50178,"s":16409,"t":"0412","v":94.3},{"d":50178,"s":16409,"t":"0418","v":94.3},{"d":50178,"s":16409,"t":"0424","v":94.2},{"d":50178,"s":16409,"t":"0430","v":94.3},{"d":50178,"s":16409,"t":"0436","v":94.3},{"d":50178,"s":16409,"t":"0442","v":94.4},{"d":50178,"s":16409,"t":"0448","v":94.3},{"d":50178,"s":16409,"t":"0454","v":94.3},{"d":50178,"s":16409,"t":"0500","v":94.3},{"d":50178,"s":16409,"t":"0506","v":94.3},{"d":50178,"s":16409,"t":"0512","v":94.3},{"d":50178,"s":16409,"t":"0518","v":94.3},{"d":50178,"s":16409,"t":"0524","v":94.3},{"d":50178,"s":16409,"t":"0530","v":94.3},{"d":50178,"s":16409,"t":"0536","v":94.2},{"d":50178,"s":16409,"t":"0542","v":94.3},{"d":50178,"s":16409,"t":"0548","v":94.3},{"d":50178,"s":16409,"t":"0554","v":94.3},{"d":50178,"s":16409,"t":"0600","v":94.3},{"d":50178,"s":16409,"t":"0606","v":94.3},{"d":50178,"s":16409,"t":"0612","v":94.2},{"d":50178,"s":16409,"t":"0618","v":94.3},{"d":50178,"s":16409,"t":"0624","v":94.3},{"d":50178,"s":16409,"t":"0630","v":94.3},{"d":50178,"s":16409,"t":"0636","v":94.3},{"d":50178,"s":16409,"t":"0642","v":94.3},{"d":50178,"s":16409,"t":"0648","v":94.4},{"d":50178,"s":16409,"t":"0654","v":94.3},{"d":50178,"s":16409,"t":"0700","v":94.4},{"d":50178,"s":16409,"t":"0706","v":94.3},{"d":50178,"s":16409,"t":"0712","v":94.3},{"d":50178,"s":16409,"t":"0718","v":94.3},{"d":50178,"s":16409,"t":"0724","v":94.3},{"d":50178,"s":16409,"t":"0730","v":94.3},{"d":50178,"s":16409,"t":"0736","v":94.3},{"d":50178,"s":16409,"t":"0742","v":94.3},{"d":50178,"s":16409,"t":"0748","v":94.3},{"d":50178,"s":16409,"t":"0754","v":94.3},{"d":50178,"s":16409,"t":"0800","v":94.3},{"d":50178,"s":16409,"t":"0806","v":94.4},{"d":50178,"s":16409,"t":"0812","v":94.3},{"d":50178,"s":16409,"t":"0818","v":94.2},{"d":50178,"s":16409,"t":"0824","v":94.3},{"d":50178,"s":16409,"t":"0830","v":94.3},{"d":50178,"s":16409,"t":"0836","v":94.3},{"d":50178,"s":16409,"t":"0842","v":94.3},{"d":50178,"s":16409,"t":"0848","v":94.2},{"d":50178,"s":16409,"t":"0854","v":94.3},{"d":50178,"s":16409,"t":"0900","v":94.4},{"d":50178,"s":16409,"t":"0906","v":94.5},{"d":50178,"s":16409,"t":"0912","v":94.4},{"d":50178,"s":16409,"t":"0918","v":94.3},{"d":50178,"s":16409,"t":"0924","v":94.3},{"d":50178,"s":16409,"t":"0930","v":94.3},{"d":50178,"s":16409,"t":"0936","v":94.3},{"d":50178,"s":16409,"t":"0942","v":94.3},{"d":50178,"s":16409,"t":"0948","v":94.3},{"d":50178,"s":16409,"t":"0954","v":94.3},
{"d":197540,"s":701,"t":"0300","v":96.6},{"d":197540,"s":701,"t":"0306","v":96.3},{"d":197540,"s":701,"t":"0312","v":96.1},{"d":197540,"s":701,"t":"0318","v":96.2},{"d":197540,"s":701,"t":"0324","v":96.1},{"d":197540,"s":701,"t":"0330","v":96.3},{"d":197540,"s":701,"t":"0336","v":96.0},{"d":197540,"s":701,"t":"0342","v":96.2},{"d":197540,"s":701,"t":"0348","v":96.1},{"d":197540,"s":701,"t":"0354","v":96.4},{"d":197540,"s":701,"t":"0400","v":96.5},{"d":197540,"s":701,"t":"0406","v":96.0},{"d":197540,"s":701,"t":"0412","v":96.3},{"d":197540,"s":701,"t":"0418","v":96.1},{"d":197540,"s":701,"t":"0424","v":96.3},{"d":197540,"s":701,"t":"0430","v":96.1},{"d":197540,"s":701,"t":"0436","v":96.3},{"d":197540,"s":701,"t":"0442","v":96.0},{"d":197540,"s":701,"t":"0448","v":96.0},{"d":197540,"s":701,"t":"0454","v":96.1},{"d":197540,"s":701,"t":"0500","v":96.2},{"d":197540,"s":701,"t":"0506","v":96.0},{"d":197540,"s":701,"t":"0512","v":96.1},{"d":197540,"s":701,"t":"0518","v":96.2},{"d":197540,"s":701,"t":"0524","v":96.1},{"d":197540,"s":701,"t":"0530","v":96.2},{"d":197540,"s":701,"t":"0536","v":96.1},{"d":197540,"s":701,"t":"0542","v":96.1},{"d":197540,"s":701,"t":"0548","v":96.3},{"d":197540,"s":701,"t":"0554","v":96.9},{"d":197540,"s":701,"t":"0600","v":96.0},{"d":197540,"s":701,"t":"0606","v":96.2},{"d":197540,"s":701,"t":"0612","v":96.1},{"d":197540,"s":701,"t":"0618","v":96.2},{"d":197540,"s":701,"t":"0624","v":96.0},{"d":197540,"s":701,"t":"0630","v":96.2},{"d":197540,"s":701,"t":"0636","v":96.3},{"d":197540,"s":701,"t":"0642","v":96.1},{"d":197540,"s":701,"t":"0648","v":96.2},{"d":197540,"s":701,"t":"0654","v":96.0},{"d":197540,"s":701,"t":"0700","v":96.1},{"d":197540,"s":701,"t":"0706","v":96.3},{"d":197540,"s":701,"t":"0712","v":96.5},{"d":197540,"s":701,"t":"0718","v":96.2},{"d":197540,"s":701,"t":"0724","v":96.1},{"d":197540,"s":701,"t":"0730","v":96.3},{"d":197540,"s":701,"t":"0736","v":96.2},{"d":197540,"s":701,"t":"0742","v":96.1},{"d":197540,"s":701,"t":"0748","v":96.2},{"d":197540,"s":701,"t":"0754","v":96.3},{"d":197540,"s":701,"t":"0800","v":96.1},{"d":197540,"s":701,"t":"0806","v":96.0},{"d":197540,"s":701,"t":"0812","v":96.2},{"d":197540,"s":701,"t":"0818","v":96.1},{"d":197540,"s":701,"t":"0824","v":96.3},{"d":197540,"s":701,"t":"0830","v":96.2},{"d":197540,"s":701,"t":"0836","v":96.1},{"d":197540,"s":701,"t":"0842","v":96.2},{"d":197540,"s":701,"t":"0848","v":96.0},{"d":197540,"s":701,"t":"0854","v":96.1},{"d":197540,"s":701,"t":"0900","v":97.0},{"d":197540,"s":701,"t":"0906","v":96.4},{"d":197540,"s":701,"t":"0912","v":96.1},{"d":197540,"s":701,"t":"0918","v":97.0},{"d":197540,"s":701,"t":"0924","v":96.2},{"d":197540,"s":701,"t":"0930","v":96.3},{"d":197540,"s":701,"t":"0936","v":96.1},{"d":197540,"s":701,"t":"0942","v":96.2},{"d":197540,"s":701,"t":"0948","v":96.0},{"d":197540,"s":701,"t":"0954","v":96.3},{"d":197540,"s":701,"t":"1000","v":96.2},
{"d":197540,"s":174,"t":"0300","v":95.9},{"d":197540,"s":174,"t":"0306","v":95.8},{"d":197540,"s":174,"t":"0312","v":95.9},{"d":197540,"s":174,"t":"0318","v":95.8},{"d":197540,"s":174,"t":"0324","v":95.9},{"d":197540,"s":174,"t":"0330","v":95.8},{"d":197540,"s":174,"t":"0336","v":95.8},{"d":197540,"s":174,"t":"0342","v":95.9},{"d":197540,"s":174,"t":"0348","v":95.8},{"d":197540,"s":174,"t":"0354","v":95.9},{"d":197540,"s":174,"t":"0400","v":95.9},{"d":197540,"s":174,"t":"0406","v":95.8},{"d":197540,"s":174,"t":"0412","v":95.8},{"d":197540,"s":174,"t":"0418","v":95.9},{"d":197540,"s":174,"t":"0424","v":95.8},{"d":197540,"s":174,"t":"0430","v":95.8},{"d":197540,"s":174,"t":"0436","v":95.9},{"d":197540,"s":174,"t":"0442","v":95.8},{"d":197540,"s":174,"t":"0448","v":99.0},{"d":197540,"s":174,"t":"0454","v":95.9},{"d":197540,"s":174,"t":"0500","v":95.8},{"d":197540,"s":174,"t":"0506","v":95.9},{"d":197540,"s":174,"t":"0512","v":95.8},{"d":197540,"s":174,"t":"0518","v":95.8},{"d":197540,"s":174,"t":"0524","v":95.9},{"d":197540,"s":174,"t":"0530","v":95.8},{"d":197540,"s":174,"t":"0536","v":95.8},{"d":197540,"s":174,"t":"0542","v":95.9},{"d":197540,"s":174,"t":"0548","v":95.7},{"d":197540,"s":174,"t":"0554","v":95.8},{"d":197540,"s":174,"t":"0600","v":95.8},{"d":197540,"s":174,"t":"0606","v":95.9},{"d":197540,"s":174,"t":"0612","v":95.8},{"d":197540,"s":174,"t":"0618","v":95.8},{"d":197540,"s":174,"t":"0624","v":95.9},{"d":197540,"s":174,"t":"0630","v":95.8},{"d":197540,"s":174,"t":"0636","v":95.9},{"d":197540,"s":174,"t":"0642","v":95.8},{"d":197540,"s":174,"t":"0648","v":95.8},{"d":197540,"s":174,"t":"0654","v":95.9},{"d":197540,"s":174,"t":"0700","v":95.8},{"d":197540,"s":174,"t":"0706","v":95.8},{"d":197540,"s":174,"t":"0712","v":95.9},{"d":197540,"s":174,"t":"0718","v":95.8},{"d":197540,"s":174,"t":"0724","v":95.8},{"d":197540,"s":174,"t":"0730","v":95.9},{"d":197540,"s":174,"t":"0736","v":95.8},{"d":197540,"s":174,"t":"0742","v":95.8},{"d":197540,"s":174,"t":"0748","v":95.9},{"d":197540,"s":174,"t":"0754","v":95.8},{"d":197540,"s":174,"t":"0800","v":95.8},{"d":197540,"s":174,"t":"0806","v":95.9},{"d":197540,"s":174,"t":"0812","v":95.8},{"d":197540,"s":174,"t":"0818","v":95.8},{"d":197540,"s":174,"t":"0824","v":95.9},{"d":197540,"s":174,"t":"0830","v":95.8},{"d":197540,"s":174,"t":"0836","v":95.8},{"d":197540,"s":174,"t":"0842","v":95.9},{"d":197540,"s":174,"t":"0848","v":95.8},{"d":197540,"s":174,"t":"0854","v":95.8},{"d":197540,"s":174,"t":"0900","v":96.0},{"d":197540,"s":174,"t":"0906","v":95.8},{"d":197540,"s":174,"t":"0912","v":95.8},{"d":197540,"s":174,"t":"0918","v":95.9},{"d":197540,"s":174,"t":"0924","v":95.8},{"d":197540,"s":174,"t":"0930","v":95.8},{"d":197540,"s":174,"t":"0936","v":95.9},{"d":197540,"s":174,"t":"0942","v":95.8},{"d":197540,"s":174,"t":"0948","v":95.8},{"d":197540,"s":174,"t":"0954","v":95.9},{"d":197540,"s":174,"t":"1000","v":95.8},
{"d":197540,"s":10745,"t":"0300","v":94.3},{"d":197540,"s":10745,"t":"0306","v":94.0},{"d":197540,"s":10745,"t":"0312","v":94.0},{"d":197540,"s":10745,"t":"0318","v":93.9},{"d":197540,"s":10745,"t":"0324","v":94.0},{"d":197540,"s":10745,"t":"0330","v":94.0},{"d":197540,"s":10745,"t":"0336","v":93.9},{"d":197540,"s":10745,"t":"0342","v":94.0},{"d":197540,"s":10745,"t":"0348","v":94.0},{"d":197540,"s":10745,"t":"0354","v":93.9},{"d":197540,"s":10745,"t":"0400","v":94.0},{"d":197540,"s":10745,"t":"0406","v":94.0},{"d":197540,"s":10745,"t":"0412","v":94.2},{"d":197540,"s":10745,"t":"0418","v":94.0},{"d":197540,"s":10745,"t":"0424","v":93.9},{"d":197540,"s":10745,"t":"0430","v":94.0},{"d":197540,"s":10745,"t":"0436","v":94.0},{"d":197540,"s":10745,"t":"0442","v":93.9},{"d":197540,"s":10745,"t":"0448","v":94.0},{"d":197540,"s":10745,"t":"0454","v":94.0},{"d":197540,"s":10745,"t":"0500","v":94.0},{"d":197540,"s":10745,"t":"0506","v":93.9},{"d":197540,"s":10745,"t":"0512","v":94.0},{"d":197540,"s":10745,"t":"0518","v":94.0},{"d":197540,"s":10745,"t":"0524","v":94.0},{"d":197540,"s":10745,"t":"0530","v":94.0},{"d":197540,"s":10745,"t":"0536","v":93.9},{"d":197540,"s":10745,"t":"0542","v":94.0},{"d":197540,"s":10745,"t":"0548","v":94.0},{"d":197540,"s":10745,"t":"0554","v":94.0},{"d":197540,"s":10745,"t":"0600","v":94.0},{"d":197540,"s":10745,"t":"0606","v":94.2},{"d":197540,"s":10745,"t":"0612","v":94.0},{"d":197540,"s":10745,"t":"0618","v":94.0},{"d":197540,"s":10745,"t":"0624","v":93.9},{"d":197540,"s":10745,"t":"0630","v":94.0},{"d":197540,"s":10745,"t":"0636","v":94.0},{"d":197540,"s":10745,"t":"0642","v":94.0},{"d":197540,"s":10745,"t":"0648","v":93.9},{"d":197540,"s":10745,"t":"0654","v":94.0},{"d":197540,"s":10745,"t":"0700","v":94.0},{"d":197540,"s":10745,"t":"0706","v":93.4},{"d":197540,"s":10745,"t":"0712","v":94.0},{"d":197540,"s":10745,"t":"0718","v":94.1},{"d":197540,"s":10745,"t":"0724","v":94.0},{"d":197540,"s":10745,"t":"0730","v":94.0},{"d":197540,"s":10745,"t":"0736","v":93.9},{"d":197540,"s":10745,"t":"0742","v":94.0},{"d":197540,"s":10745,"t":"0748","v":94.0},{"d":197540,"s":10745,"t":"0754","v":94.0},{"d":197540,"s":10745,"t":"0800","v":94.0},{"d":197540,"s":10745,"t":"0806","v":94.0},{"d":197540,"s":10745,"t":"0812","v":93.9},{"d":197540,"s":10745,"t":"0818","v":94.0},{"d":197540,"s":10745,"t":"0824","v":94.0},{"d":197540,"s":10745,"t":"0830","v":94.0},{"d":197540,"s":10745,"t":"0836","v":94.0},{"d":197540,"s":10745,"t":"0842","v":93.9},{"d":197540,"s":10745,"t":"0848","v":94.0},{"d":197540,"s":10745,"t":"0854","v":94.0},{"d":197540,"s":10745,"t":"0900","v":94.0},{"d":197540,"s":10745,"t":"0906","v":94.1},{"d":197540,"s":10745,"t":"0912","v":94.0},{"d":197540,"s":10745,"t":"0918","v":94.0},{"d":197540,"s":10745,"t":"0924","v":93.9},{"d":197540,"s":10745,"t":"0930","v":94.0},{"d":197540,"s":10745,"t":"0936","v":94.0},{"d":197540,"s":10745,"t":"0942","v":94.0},{"d":197540,"s":10745,"t":"0948","v":94.1},{"d":197540,"s":10745,"t":"0954","v":94.0},{"d":197540,"s":10745,"t":"1000","v":94.0},
{"d":197540,"s":10886,"t":"0300","v":93.8},{"d":197540,"s":10886,"t":"0306","v":93.7},{"d":197540,"s":10886,"t":"0312","v":93.8},{"d":197540,"s":10886,"t":"0318","v":93.7},{"d":197540,"s":10886,"t":"0324","v":93.8},{"d":197540,"s":10886,"t":"0330","v":93.7},{"d":197540,"s":10886,"t":"0336","v":93.9},{"d":197540,"s":10886,"t":"0342","v":93.8},{"d":197540,"s":10886,"t":"0348","v":93.7},{"d":197540,"s":10886,"t":"0354","v":93.8},{"d":197540,"s":10886,"t":"0400","v":93.8},{"d":197540,"s":10886,"t":"0406","v":93.7},{"d":197540,"s":10886,"t":"0412","v":93.8},{"d":197540,"s":10886,"t":"0418","v":93.8},{"d":197540,"s":10886,"t":"0424","v":93.7},{"d":197540,"s":10886,"t":"0430","v":93.8},{"d":197540,"s":10886,"t":"0436","v":93.8},{"d":197540,"s":10886,"t":"0442","v":93.7},{"d":197540,"s":10886,"t":"0448","v":93.8},{"d":197540,"s":10886,"t":"0454","v":93.8},{"d":197540,"s":10886,"t":"0500","v":93.8},{"d":197540,"s":10886,"t":"0506","v":93.7},{"d":197540,"s":10886,"t":"0512","v":93.8},{"d":197540,"s":10886,"t":"0518","v":93.8},{"d":197540,"s":10886,"t":"0524","v":93.7},{"d":197540,"s":10886,"t":"0530","v":93.8},{"d":197540,"s":10886,"t":"0536","v":93.8},{"d":197540,"s":10886,"t":"0542","v":93.7},{"d":197540,"s":10886,"t":"0548","v":93.8},{"d":197540,"s":10886,"t":"0554","v":93.8},{"d":197540,"s":10886,"t":"0600","v":93.9},{"d":197540,"s":10886,"t":"0606","v":93.8},{"d":197540,"s":10886,"t":"0612","v":93.8},{"d":197540,"s":10886,"t":"0618","v":93.7},{"d":197540,"s":10886,"t":"0624","v":93.8},{"d":197540,"s":10886,"t":"0630","v":93.8},{"d":197540,"s":10886,"t":"0636","v":93.7},{"d":197540,"s":10886,"t":"0642","v":93.8},{"d":197540,"s":10886,"t":"0648","v":93.8},{"d":197540,"s":10886,"t":"0654","v":93.7},{"d":197540,"s":10886,"t":"0700","v":93.8},{"d":197540,"s":10886,"t":"0706","v":93.8},{"d":197540,"s":10886,"t":"0712","v":93.7},{"d":197540,"s":10886,"t":"0718","v":93.8},{"d":197540,"s":10886,"t":"0724","v":93.8},{"d":197540,"s":10886,"t":"0730","v":93.7},{"d":197540,"s":10886,"t":"0736","v":93.8},{"d":197540,"s":10886,"t":"0742","v":93.7},{"d":197540,"s":10886,"t":"0748","v":93.8},{"d":197540,"s":10886,"t":"0754","v":93.8},{"d":197540,"s":10886,"t":"0800","v":93.7},{"d":197540,"s":10886,"t":"0806","v":93.8},{"d":197540,"s":10886,"t":"0812","v":93.8},{"d":197540,"s":10886,"t":"0818","v":93.9},{"d":197540,"s":10886,"t":"0824","v":93.8},{"d":197540,"s":10886,"t":"0830","v":93.8},{"d":197540,"s":10886,"t":"0836","v":93.7},{"d":197540,"s":10886,"t":"0842","v":93.8},{"d":197540,"s":10886,"t":"0848","v":93.8},{"d":197540,"s":10886,"t":"0854","v":93.7},{"d":197540,"s":10886,"t":"0900","v":93.8},{"d":197540,"s":10886,"t":"0906","v":93.9},{"d":197540,"s":10886,"t":"0912","v":93.8},{"d":197540,"s":10886,"t":"0918","v":93.8},{"d":197540,"s":10886,"t":"0924","v":93.8},{"d":197540,"s":10886,"t":"0930","v":93.9},{"d":197540,"s":10886,"t":"0936","v":93.8},{"d":197540,"s":10886,"t":"0942","v":93.8},{"d":197540,"s":10886,"t":"0948","v":93.8},{"d":197540,"s":10886,"t":"0954","v":93.8},{"d":197540,"s":10886,"t":"1000","v":93.7},
{"d":197540,"s":16876,"t":"0300","v":91.5},{"d":197540,"s":16876,"t":"0306","v":91.5},{"d":197540,"s":16876,"t":"0312","v":91.4},{"d":197540,"s":16876,"t":"0318","v":91.4},{"d":197540,"s":16876,"t":"0324","v":91.5},{"d":197540,"s":16876,"t":"0330","v":91.5},{"d":197540,"s":16876,"t":"0336","v":91.6},{"d":197540,"s":16876,"t":"0342","v":91.4},{"d":197540,"s":16876,"t":"0348","v":91.4},{"d":197540,"s":16876,"t":"0354","v":91.4},{"d":197540,"s":16876,"t":"0400","v":91.5},{"d":197540,"s":16876,"t":"0406","v":91.6},{"d":197540,"s":16876,"t":"0412","v":91.4},{"d":197540,"s":16876,"t":"0418","v":90.2},{"d":197540,"s":16876,"t":"0424","v":90.1},{"d":197540,"s":16876,"t":"0430","v":91.4},{"d":197540,"s":16876,"t":"0436","v":91.4},{"d":197540,"s":16876,"t":"0442","v":91.5},{"d":197540,"s":16876,"t":"0448","v":91.4},{"d":197540,"s":16876,"t":"0454","v":91.4},{"d":197540,"s":16876,"t":"0500","v":91.2},{"d":197540,"s":16876,"t":"0506","v":91.5},{"d":197540,"s":16876,"t":"0512","v":91.4},{"d":197540,"s":16876,"t":"0518","v":91.4},{"d":197540,"s":16876,"t":"0524","v":91.5},{"d":197540,"s":16876,"t":"0530","v":91.4},{"d":197540,"s":16876,"t":"0536","v":91.4},{"d":197540,"s":16876,"t":"0542","v":91.4},{"d":197540,"s":16876,"t":"0548","v":91.5},{"d":197540,"s":16876,"t":"0554","v":91.4},{"d":197540,"s":16876,"t":"0600","v":91.5},{"d":197540,"s":16876,"t":"0606","v":91.4},{"d":197540,"s":16876,"t":"0612","v":91.5},{"d":197540,"s":16876,"t":"0618","v":91.6},{"d":197540,"s":16876,"t":"0624","v":91.4},{"d":197540,"s":16876,"t":"0630","v":91.5},{"d":197540,"s":16876,"t":"0636","v":91.4},{"d":197540,"s":16876,"t":"0642","v":91.4},{"d":197540,"s":16876,"t":"0648","v":91.4},{"d":197540,"s":16876,"t":"0654","v":91.5},{"d":197540,"s":16876,"t":"0700","v":91.5},{"d":197540,"s":16876,"t":"0706","v":91.6},{"d":197540,"s":16876,"t":"0712","v":91.4},{"d":197540,"s":16876,"t":"0718","v":91.5},{"d":197540,"s":16876,"t":"0724","v":91.4},{"d":197540,"s":16876,"t":"0730","v":91.4},{"d":197540,"s":16876,"t":"0736","v":91.5},{"d":197540,"s":16876,"t":"0742","v":91.6},{"d":197540,"s":16876,"t":"0748","v":91.5},{"d":197540,"s":16876,"t":"0754","v":91.4},{"d":197540,"s":16876,"t":"0800","v":91.5},{"d":197540,"s":16876,"t":"0806","v":91.4},{"d":197540,"s":16876,"t":"0812","v":91.4},{"d":197540,"s":16876,"t":"0818","v":91.7},{"d":197540,"s":16876,"t":"0824","v":91.5},{"d":197540,"s":16876,"t":"0830","v":91.4},{"d":197540,"s":16876,"t":"0836","v":91.4},{"d":197540,"s":16876,"t":"0842","v":91.4},{"d":197540,"s":16876,"t":"0848","v":91.5},{"d":197540,"s":16876,"t":"0854","v":91.5},{"d":197540,"s":16876,"t":"0900","v":91.5},{"d":197540,"s":16876,"t":"0906","v":91.4},{"d":197540,"s":16876,"t":"0912","v":91.5},{"d":197540,"s":16876,"t":"0918","v":91.4},{"d":197540,"s":16876,"t":"0924","v":91.4},{"d":197540,"s":16876,"t":"0930","v":91.6},{"d":197540,"s":16876,"t":"0936","v":91.4},{"d":197540,"s":16876,"t":"0942","v":91.4},{"d":197540,"s":16876,"t":"0948","v":91.4},{"d":197540,"s":16876,"t":"0954","v":91.4},
{"d":197540,"s":16876,"t":"0300","v":89.5},{"d":197540,"s":16876,"t":"0306","v":89.5},{"d":197540,"s":16876,"t":"0312","v":89.5},{"d":197540,"s":16876,"t":"0318","v":89.5},{"d":197540,"s":16876,"t":"0324","v":89.6},{"d":197540,"s":16876,"t":"0330","v":89.4},{"d":197540,"s":16876,"t":"0336","v":89.5},{"d":197540,"s":16876,"t":"0342","v":89.6},{"d":197540,"s":16876,"t":"0348","v":89.5},{"d":197540,"s":16876,"t":"0354","v":89.5},{"d":197540,"s":16876,"t":"0400","v":89.6},{"d":197540,"s":16876,"t":"0406","v":89.5},{"d":197540,"s":16876,"t":"0412","v":89.5},{"d":197540,"s":16876,"t":"0418","v":89.6},{"d":197540,"s":16876,"t":"0424","v":89.5},{"d":197540,"s":16876,"t":"0430","v":89.5},{"d":197540,"s":16876,"t":"0436","v":89.5},{"d":197540,"s":16876,"t":"0442","v":89.5},{"d":197540,"s":16876,"t":"0448","v":89.3},{"d":197540,"s":16876,"t":"0454","v":89.5},{"d":197540,"s":16876,"t":"0500","v":89.5},{"d":197540,"s":16876,"t":"0506","v":89.5},{"d":197540,"s":16876,"t":"0512","v":89.5},{"d":197540,"s":16876,"t":"0518","v":89.5},{"d":197540,"s":16876,"t":"0524","v":89.5},{"d":197540,"s":16876,"t":"0530","v":89.6},{"d":197540,"s":16876,"t":"0536","v":89.5},{"d":197540,"s":16876,"t":"0542","v":89.5},{"d":197540,"s":16876,"t":"0548","v":89.5},{"d":197540,"s":16876,"t":"0554","v":89.5},{"d":197540,"s":16876,"t":"0600","v":89.5},{"d":197540,"s":16876,"t":"0606","v":89.5},{"d":197540,"s":16876,"t":"0612","v":89.5},{"d":197540,"s":16876,"t":"0618","v":89.6},{"d":197540,"s":16876,"t":"0624","v":89.5},{"d":197540,"s":16876,"t":"0630","v":89.5},{"d":197540,"s":16876,"t":"0636","v":89.5},{"d":197540,"s":16876,"t":"0642","v":89.5},{"d":197540,"s":16876,"t":"0648","v":89.5},{"d":197540,"s":16876,"t":"0654","v":89.5},{"d":197540,"s":16876,"t":"0700","v":89.5},{"d":197540,"s":16876,"t":"0706","v":89.8},{"d":197540,"s":16876,"t":"0712","v":89.6},{"d":197540,"s":16876,"t":"0718","v":89.5},{"d":197540,"s":16876,"t":"0724","v":89.5},{"d":197540,"s":16876,"t":"0730","v":89.5},{"d":197540,"s":16876,"t":"0736","v":89.6},{"d":197540,"s":16876,"t":"0742","v":89.5},{"d":197540,"s":16876,"t":"0748","v":89.7},{"d":197540,"s":16876,"t":"0754","v":89.5},{"d":197540,"s":16876,"t":"0800","v":89.6},{"d":197540,"s":16876,"t":"0806","v":89.5},{"d":197540,"s":16876,"t":"0812","v":89.5},{"d":197540,"s":16876,"t":"0818","v":89.7},{"d":197540,"s":16876,"t":"0824","v":89.6},{"d":197540,"s":16876,"t":"0830","v":89.6},{"d":197540,"s":16876,"t":"0836","v":89.5},{"d":197540,"s":16876,"t":"0842","v":89.5},{"d":197540,"s":16876,"t":"0848","v":89.5},{"d":197540,"s":16876,"t":"0854","v":89.6},{"d":197540,"s":16876,"t":"0900","v":89.5},{"d":197540,"s":16876,"t":"0906","v":89.5},{"d":197540,"s":16876,"t":"0912","v":89.5},{"d":197540,"s":16876,"t":"0918","v":89.5},{"d":197540,"s":16876,"t":"0924","v":89.6},{"d":197540,"s":16876,"t":"0930","v":89.6},{"d":197540,"s":16876,"t":"0936","v":89.5},{"d":197540,"s":16876,"t":"0942","v":89.5},{"d":197540,"s":16876,"t":"0948","v":89.5},{"d":197540,"s":16876,"t":"0954","v":89.5},{"d":197540,"s":16876,"t":"1000","v":89.5},
{"d":197540,"s":3491,"t":"0300","v":88.7},{"d":197540,"s":3491,"t":"0306","v":88.6},{"d":197540,"s":3491,"t":"0312","v":88.6},{"d":197540,"s":3491,"t":"0318","v":88.6},{"d":197540,"s":3491,"t":"0324","v":88.6},{"d":197540,"s":3491,"t":"0330","v":88.6},{"d":197540,"s":3491,"t":"0336","v":88.6},{"d":197540,"s":3491,"t":"0342","v":88.6},{"d":197540,"s":3491,"t":"0348","v":88.6},{"d":197540,"s":3491,"t":"0354","v":88.6},{"d":197540,"s":3491,"t":"0400","v":88.6},{"d":197540,"s":3491,"t":"0406","v":88.6},{"d":197540,"s":3491,"t":"0412","v":88.6},{"d":197540,"s":3491,"t":"0418","v":88.6},{"d":197540,"s":3491,"t":"0424","v":88.6},{"d":197540,"s":3491,"t":"0430","v":88.6},{"d":197540,"s":3491,"t":"0436","v":88.6},{"d":197540,"s":3491,"t":"0442","v":88.6},{"d":197540,"s":3491,"t":"0448","v":88.6},{"d":197540,"s":3491,"t":"0450","v":90.1},{"d":197540,"s":3491,"t":"0454","v":88.6},{"d":197540,"s":3491,"t":"0500","v":88.6},{"d":197540,"s":3491,"t":"0506","v":88.6},{"d":197540,"s":3491,"t":"0512","v":88.6},{"d":197540,"s":3491,"t":"0518","v":88.5},{"d":197540,"s":3491,"t":"0524","v":88.6},{"d":197540,"s":3491,"t":"0530","v":88.6},{"d":197540,"s":3491,"t":"0536","v":88.6},{"d":197540,"s":3491,"t":"0542","v":88.6},{"d":197540,"s":3491,"t":"0548","v":88.6},{"d":197540,"s":3491,"t":"0554","v":88.7},{"d":197540,"s":3491,"t":"0600","v":88.6},{"d":197540,"s":3491,"t":"0606","v":88.6},{"d":197540,"s":3491,"t":"0612","v":88.6},{"d":197540,"s":3491,"t":"0618","v":88.7},{"d":197540,"s":3491,"t":"0624","v":88.6},{"d":197540,"s":3491,"t":"0630","v":88.6},{"d":197540,"s":3491,"t":"0636","v":88.6},{"d":197540,"s":3491,"t":"0642","v":88.6},{"d":197540,"s":3491,"t":"0648","v":88.6},{"d":197540,"s":3491,"t":"0654","v":88.6},{"d":197540,"s":3491,"t":"0700","v":88.6},{"d":197540,"s":3491,"t":"0706","v":88.7},{"d":197540,"s":3491,"t":"0712","v":88.6},{"d":197540,"s":3491,"t":"0718","v":88.6},{"d":197540,"s":3491,"t":"0724","v":88.7},{"d":197540,"s":3491,"t":"0730","v":88.6},{"d":197540,"s":3491,"t":"0736","v":88.6},{"d":197540,"s":3491,"t":"0742","v":88.6},{"d":197540,"s":3491,"t":"0748","v":88.7},{"d":197540,"s":3491,"t":"0754","v":88.6},{"d":197540,"s":3491,"t":"0800","v":88.6},{"d":197540,"s":3491,"t":"0806","v":88.6},{"d":197540,"s":3491,"t":"0812","v":88.6},{"d":197540,"s":3491,"t":"0818","v":88.7},{"d":197540,"s":3491,"t":"0824","v":88.6},{"d":197540,"s":3491,"t":"0830","v":88.7},{"d":197540,"s":3491,"t":"0836","v":88.6},{"d":197540,"s":3491,"t":"0842","v":88.6},{"d":197540,"s":3491,"t":"0848","v":88.6},{"d":197540,"s":3491,"t":"0854","v":88.6},{"d":197540,"s":3491,"t":"0900","v":88.6},{"d":197540,"s":3491,"t":"0906","v":88.6},{"d":197540,"s":3491,"t":"0912","v":88.6},{"d":197540,"s":3491,"t":"0918","v":88.6},{"d":197540,"s":3491,"t":"0924","v":88.7},{"d":197540,"s":3491,"t":"0930","v":88.6},{"d":197540,"s":3491,"t":"0936","v":88.6},{"d":197540,"s":3491,"t":"0942","v":88.6},{"d":197540,"s":3491,"t":"0948","v":88.7},{"d":197540,"s":3491,"t":"0954","v":88.6},{"d":197540,"s":3491,"t":"1000","v":88.6},
{"d":197540,"s":10745,"t":"0300","v":88.4},{"d":197540,"s":10745,"t":"0318","v":88.2},{"d":197540,"s":10745,"t":"0336","v":88.2},{"d":197540,"s":10745,"t":"0354","v":88.2},{"d":197540,"s":10745,"t":"0412","v":88.2},{"d":197540,"s":10745,"t":"0430","v":88.3},{"d":197540,"s":10745,"t":"0448","v":88.2},{"d":197540,"s":10745,"t":"0506","v":88.2},{"d":197540,"s":10745,"t":"0524","v":88.3},{"d":197540,"s":10745,"t":"0542","v":88.2},{"d":197540,"s":10745,"t":"0600","v":88.2},{"d":197540,"s":10745,"t":"0618","v":88.3},{"d":197540,"s":10745,"t":"0636","v":88.2},{"d":197540,"s":10745,"t":"0654","v":88.2},{"d":197540,"s":10745,"t":"0712","v":88.3},{"d":197540,"s":10745,"t":"0730","v":88.2},{"d":197540,"s":10745,"t":"0748","v":88.2},{"d":197540,"s":10745,"t":"0806","v":88.2},{"d":197540,"s":10745,"t":"0824","v":88.3},{"d":197540,"s":10745,"t":"0842","v":88.2},{"d":197540,"s":10745,"t":"0900","v":88.3},{"d":197540,"s":10745,"t":"0918","v":88.4},{"d":197540,"s":10745,"t":"0936","v":88.2},{"d":197540,"s":10745,"t":"0954","v":88.2},
{"d":197540,"s":16409,"t":"0300","v":87.9},{"d":197540,"s":16409,"t":"0306","v":87.6},{"d":197540,"s":16409,"t":"0312","v":87.7},{"d":197540,"s":16409,"t":"0318","v":87.6},{"d":197540,"s":16409,"t":"0324","v":87.7},{"d":197540,"s":16409,"t":"0330","v":87.7},{"d":197540,"s":16409,"t":"0336","v":87.6},{"d":197540,"s":16409,"t":"0342","v":87.7},{"d":197540,"s":16409,"t":"0348","v":87.7},{"d":197540,"s":16409,"t":"0354","v":87.6},{"d":197540,"s":16409,"t":"0400","v":87.7},{"d":197540,"s":16409,"t":"0406","v":87.7},{"d":197540,"s":16409,"t":"0412","v":87.7},{"d":197540,"s":16409,"t":"0418","v":87.7},{"d":197540,"s":16409,"t":"0424","v":87.7},{"d":197540,"s":16409,"t":"0430","v":87.6},{"d":197540,"s":16409,"t":"0436","v":87.7},{"d":197540,"s":16409,"t":"0442","v":87.8},{"d":197540,"s":16409,"t":"0448","v":87.7},{"d":197540,"s":16409,"t":"0454","v":87.7},{"d":197540,"s":16409,"t":"0500","v":87.7},{"d":197540,"s":16409,"t":"0506","v":87.6},{"d":197540,"s":16409,"t":"0512","v":87.7},{"d":197540,"s":16409,"t":"0518","v":87.7},{"d":197540,"s":16409,"t":"0524","v":87.6},{"d":197540,"s":16409,"t":"0530","v":87.7},{"d":197540,"s":16409,"t":"0536","v":87.7},{"d":197540,"s":16409,"t":"0536","v":89.9},{"d":197540,"s":16409,"t":"0542","v":87.6},{"d":197540,"s":16409,"t":"0548","v":87.7},{"d":197540,"s":16409,"t":"0554","v":87.7},{"d":197540,"s":16409,"t":"0600","v":87.6},{"d":197540,"s":16409,"t":"0606","v":87.7},{"d":197540,"s":16409,"t":"0612","v":87.6},{"d":197540,"s":16409,"t":"0618","v":87.7},{"d":197540,"s":16409,"t":"0624","v":87.6},{"d":197540,"s":16409,"t":"0630","v":87.7},{"d":197540,"s":16409,"t":"0636","v":87.7},{"d":197540,"s":16409,"t":"0642","v":87.7},{"d":197540,"s":16409,"t":"0648","v":87.6},{"d":197540,"s":16409,"t":"0654","v":87.7},{"d":197540,"s":16409,"t":"0700","v":87.7},{"d":197540,"s":16409,"t":"0706","v":87.8},{"d":197540,"s":16409,"t":"0712","v":87.8},{"d":197540,"s":16409,"t":"0718","v":87.7},{"d":197540,"s":16409,"t":"0724","v":87.7},{"d":197540,"s":16409,"t":"0730","v":87.6},{"d":197540,"s":16409,"t":"0736","v":87.7},{"d":197540,"s":16409,"t":"0742","v":87.7},{"d":197540,"s":16409,"t":"0748","v":87.6},{"d":197540,"s":16409,"t":"0754","v":87.7},{"d":197540,"s":16409,"t":"0800","v":87.7},{"d":197540,"s":16409,"t":"0806","v":87.7},{"d":197540,"s":16409,"t":"0812","v":87.7},{"d":197540,"s":16409,"t":"0818","v":87.8},{"d":197540,"s":16409,"t":"0824","v":87.7},{"d":197540,"s":16409,"t":"0830","v":87.7},{"d":197540,"s":16409,"t":"0836","v":87.7},{"d":197540,"s":16409,"t":"0842","v":87.7},{"d":197540,"s":16409,"t":"0848","v":87.7},{"d":197540,"s":16409,"t":"0854","v":87.7},{"d":197540,"s":16409,"t":"0900","v":87.7},{"d":197540,"s":16409,"t":"0906","v":87.8},{"d":197540,"s":16409,"t":"0912","v":87.6},{"d":197540,"s":16409,"t":"0918","v":87.7},{"d":197540,"s":16409,"t":"0924","v":87.7},{"d":197540,"s":16409,"t":"0930","v":87.7},{"d":197540,"s":16409,"t":"0936","v":87.7},{"d":197540,"s":16409,"t":"0942","v":87.7},{"d":197540,"s":16409,"t":"0948","v":87.7},{"d":197540,"s":16409,"t":"0954","v":87.6},{"d":197540,"s":16409,"t":"1000","v":87.7}
]},
"facet":{"column":{"field":"d","type":"ordinal","title":null,"header":{"labelExpr":"'asn_dest = ' + datum.value"}}},
"spacing":19,
"spec":{
"width":959,"height":613,
"mark":{"type":"circle","size":15,"opacity":1,"stroke":"white","strokeWidth":0.4},
"encoding":{
"x":{"field":"t","type":"temporal","title":"Time (UTC)","scale":{"padding":42},"axis":{"format":"10-07 %H","tickCount":8,"labelPadding":14,"titlePadding":5,"labelFlush":false}},
"y":{"field":"v","type":"quantitative","title":"RTT min (ms)","scale":{"domain":[83.6,137.4],"nice":false,"zero":false},"axis":{"values":[90,100,110,120,130],"labelPadding":15,"titlePadding":4}},
"color":{"field":"s","type":"nominal","title":"asn_src","scale":{"domain":[174,701,3491,10745,10886,16409,16876,16881],"range":["#4c72b0","#dd8452","#55a868","#c44e52","#8172b3","#937860","#da8bc3","#8c8c8c"]},"legend":{"orient":"none","legendX":3945,"legendY":210,"padding":0,"titleFontSize":16,"titleFontWeight":"normal","titleColor":"#262626","labelFontSize":14.4,"labelColor":"#262626","symbolType":"circle","symbolSize":80,"symbolStrokeColor":"white","symbolStrokeWidth":0.5,"rowPadding":8,"titlePadding":10,"labelOffset":23}}
}
}
}
